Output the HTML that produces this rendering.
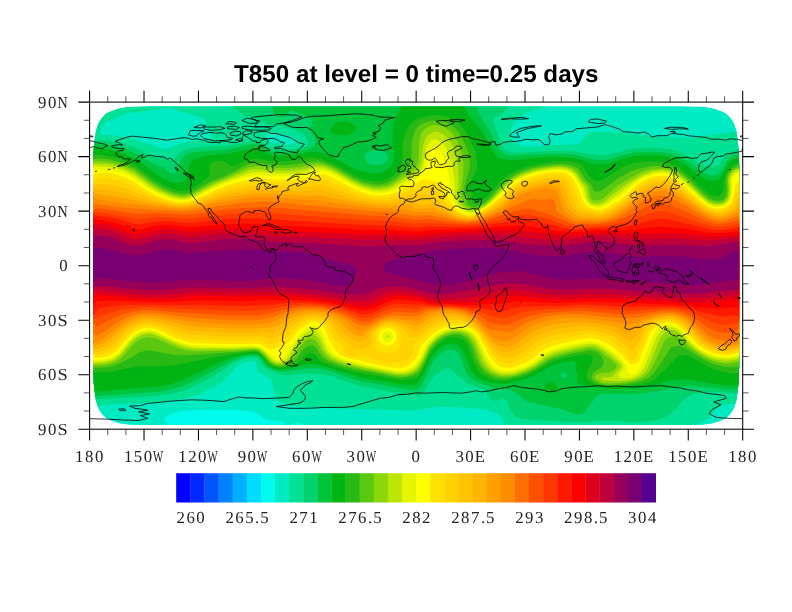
<!DOCTYPE html>
<html><head><meta charset="utf-8"><title>T850</title>
<style>
html,body{margin:0;padding:0;background:#fff;}
svg{display:block;}
text{text-rendering:geometricPrecision;}
.tl{font-family:"Liberation Serif",serif;font-size:16.8px;fill:#222;}
.tt{font-family:"Liberation Sans",sans-serif;font-weight:bold;font-size:24.2px;fill:#000;}
</style></head><body>
<svg width="792" height="612" viewBox="0 0 792 612">
<rect width="792" height="612" fill="#fff"/>
<g id="field">
<g clip-path="url(#dom)">
<rect x="89.8" y="102.2" width="652.2" height="326.8" fill="#00faeb"/>
<path fill="#00ebc3" fill-rule="evenodd" d="M87.8,100.2 745.8,100.2 745.8,432.2 408.9,432.2 407.8,429.6 405.8,428.1 397.8,427.5 393.8,428.2 392.0,430.2 391.1,432.2 358.9,432.2 357.8,429.6 355.8,428.3 351.8,427.9 343.8,428.7 341.8,430.0 340.6,432.2 311.2,432.2 309.6,430.2 303.8,426.2 301.8,423.9 299.8,423.2 295.8,423.0 293.8,423.2 290.9,424.2 291.2,426.2 290.7,428.2 288.2,432.3 282.3,432.2 280.8,428.2 281.2,426.2 281.8,425.5 284.4,424.2 285.4,422.2 277.8,420.7 267.8,419.8 263.9,418.2 255.8,412.5 251.8,411.4 235.8,409.9 215.8,409.5 185.8,410.6 175.8,412.2 169.6,414.2 165.9,416.2 164.2,418.2 164.2,420.2 168.6,424.2 168.8,426.2 167.4,430.2 167.5,432.2 87.8,432.2Z"/>
<path fill="#00e196" fill-rule="evenodd" d="M87.8,100.2 547.6,100.2 548.0,102.2 547.7,104.2 546.3,106.2 541.6,108.2 527.8,112.1 523.4,114.2 515.9,120.2 511.8,126.1 510.8,130.2 511.0,134.2 511.8,137.8 513.8,141.4 517.3,144.2 522.8,146.2 525.8,146.6 539.7,146.2 555.8,144.7 577.4,144.2 580.7,142.2 587.8,134.0 589.8,132.8 593.8,132.0 619.8,132.3 654.2,136.2 687.8,137.9 701.8,136.5 729.8,132.2 739.8,131.4 745.8,132.2 745.7,406.1 743.0,404.2 735.8,403.6 726.9,404.2 720.6,406.2 715.1,410.2 707.8,418.6 705.8,420.3 695.8,425.4 687.8,427.2 685.8,429.1 684.7,432.2 507.7,432.2 505.8,429.7 504.2,426.2 502.8,420.2 499.8,416.0 497.8,414.2 494.0,412.2 485.8,409.8 481.8,409.1 451.8,407.1 439.8,406.8 427.8,408.2 417.8,410.3 409.8,410.5 331.8,408.3 295.8,406.4 289.8,405.3 280.8,402.2 277.0,400.2 275.8,398.1 271.5,380.2 269.7,378.2 259.0,372.2 257.2,370.2 256.4,364.2 255.8,362.9 253.8,361.5 251.8,361.2 244.8,362.2 240.2,364.2 234.8,368.2 225.8,378.5 219.8,383.5 205.8,391.3 197.8,394.8 191.8,396.9 179.8,399.6 153.8,402.9 121.8,403.8 103.8,404.9 99.8,406.2 95.8,410.0 91.2,410.2 87.8,411.2ZM163.8,108.2 141.8,111.8 129.8,112.8 123.8,114.4 113.8,119.2 107.8,121.1 105.8,122.3 102.7,126.2 100.3,132.2 101.1,134.2 101.8,134.5 115.8,135.6 127.8,137.4 139.8,141.0 159.8,148.1 165.8,148.7 169.8,148.2 175.8,145.2 181.8,142.9 189.8,141.2 205.8,140.1 211.2,138.2 211.4,136.2 205.8,123.0 203.8,119.6 201.8,118.0 171.8,108.4 167.8,107.8ZM271.8,132.2 269.8,132.6 266.1,134.2 265.0,136.2 269.8,142.0 271.8,143.1 273.8,143.5 277.8,142.8 279.8,143.2 281.5,144.2 287.8,145.1 293.6,144.2 296.5,142.2 296.1,140.2 294.2,138.2 290.3,136.2 285.8,135.2 279.8,134.7 273.8,132.5Z"/>
<path fill="#00d26e" fill-rule="evenodd" d="M87.8,100.2 112.8,100.2 111.8,104.3 103.8,107.6 101.8,108.9 99.8,111.2 97.8,115.0 96.4,116.2 89.8,117.7 87.8,117.3ZM231.2,100.2 507.8,100.2 508.3,106.2 507.6,108.2 503.8,111.5 494.1,118.2 493.3,120.2 493.5,122.2 500.0,140.2 502.7,146.2 504.1,148.2 506.4,150.2 509.8,151.7 512.8,152.2 521.8,152.4 549.8,150.9 567.8,150.8 575.8,151.5 585.8,153.5 601.8,155.3 610.9,154.2 621.8,150.9 631.8,148.8 647.8,147.7 659.8,147.9 669.8,149.2 677.8,151.5 685.8,155.0 689.8,157.2 700.1,164.2 705.8,166.3 711.8,167.0 715.8,166.4 717.8,165.1 725.8,155.8 731.8,151.3 741.8,147.6 745.8,146.9 745.8,394.4 721.8,392.4 711.8,392.1 702.8,392.2 693.8,393.9 688.2,396.2 685.4,398.2 681.4,402.2 674.9,410.2 669.8,414.6 663.8,417.8 659.8,419.3 649.8,421.2 629.8,422.6 615.8,420.8 597.8,420.7 585.8,421.9 573.8,422.1 529.8,419.7 519.9,418.2 515.8,416.4 513.1,414.2 510.1,410.2 507.3,402.2 505.8,399.6 503.8,398.7 495.8,400.7 493.8,400.8 491.8,400.2 489.8,398.1 486.7,392.2 485.0,390.2 481.8,388.8 471.8,385.8 467.8,383.8 456.1,374.2 455.8,373.5 449.8,368.4 447.8,367.9 441.8,370.7 435.8,375.0 431.8,378.7 427.8,384.5 424.3,392.2 422.7,394.2 419.8,395.7 415.8,395.7 407.8,394.9 357.8,385.4 330.6,376.2 322.0,374.2 309.8,373.6 287.8,375.1 283.8,374.9 277.8,373.8 265.8,368.5 263.8,366.5 259.8,360.4 257.8,358.3 253.8,357.2 245.8,358.0 239.0,360.2 231.5,364.2 217.8,373.5 207.8,379.2 187.8,389.2 177.8,392.6 167.8,394.6 157.8,395.8 99.8,399.2 87.8,402.1 87.8,137.4 89.8,138.2 97.8,139.9 111.8,141.4 123.8,143.7 133.8,147.2 155.8,157.6 157.8,158.1 161.8,157.9 163.7,158.3 167.8,159.9 169.8,160.3 171.8,160.1 173.8,159.2 180.8,152.2 183.8,150.3 187.7,148.7 195.8,147.3 225.8,145.8 236.7,144.2 253.8,141.0 257.8,140.7 261.8,142.3 267.8,146.8 271.8,148.8 277.8,149.5 287.8,149.8 301.8,148.2 305.7,146.2 307.3,144.2 307.8,142.2 306.5,138.2 303.8,135.0 299.8,131.7 291.8,128.5 269.4,124.2 265.8,122.9 253.8,116.4 245.8,115.6 243.8,114.9 237.6,110.2 233.8,107.9 232.1,106.2 231.4,104.2Z"/>
<path fill="#00c33c" fill-rule="evenodd" d="M269.4,100.2 476.4,100.2 476.7,106.2 478.4,112.2 489.7,130.7 498.2,148.2 499.8,150.4 503.8,153.6 509.8,155.4 517.8,155.6 549.8,153.8 565.8,154.0 575.8,155.1 591.8,159.0 601.8,160.2 609.8,159.2 625.8,154.2 633.8,152.5 647.8,151.7 659.8,151.9 669.8,153.5 679.8,157.1 687.8,161.6 697.8,168.8 703.8,172.5 709.8,175.0 713.8,175.5 717.8,174.4 719.8,173.0 721.8,170.5 727.5,160.2 731.8,156.4 737.8,153.9 745.8,153.2 745.8,390.2 729.8,389.4 695.8,386.4 683.8,386.1 673.8,387.3 657.8,391.3 643.8,393.3 625.8,394.1 601.8,393.8 599.4,394.2 597.0,396.2 589.8,404.5 583.8,412.7 580.0,414.2 575.8,414.1 559.8,408.6 549.8,407.1 535.8,403.2 527.8,402.0 524.8,400.2 519.8,395.1 511.3,390.2 503.8,388.2 499.8,387.8 498.3,388.2 495.8,390.3 493.8,389.6 492.7,388.2 488.8,386.2 475.7,381.3 470.7,378.2 467.1,374.2 464.3,368.3 460.3,356.2 457.8,352.5 455.8,350.7 453.7,349.8 449.8,349.3 445.8,350.3 442.1,352.2 439.5,354.2 435.7,358.2 431.8,364.2 427.4,374.2 420.9,386.2 419.6,388.2 417.8,389.5 415.8,390.0 409.8,389.8 403.8,389.1 385.8,385.6 363.8,382.1 353.8,379.2 327.8,370.4 319.8,368.7 309.8,368.3 299.8,369.2 285.8,371.2 277.8,371.1 273.8,369.9 267.8,366.9 264.9,364.2 259.8,357.5 257.8,356.0 253.8,355.1 244.6,356.2 233.8,359.8 209.8,372.7 187.8,383.8 181.8,386.5 173.8,389.1 165.8,390.7 155.8,392.0 99.8,395.8 91.8,397.3 87.8,398.6 87.8,143.2 95.8,143.6 107.8,145.0 119.8,147.5 127.8,150.0 137.8,154.7 155.8,165.3 165.4,168.2 169.8,172.6 171.8,173.7 173.8,173.7 175.8,172.1 179.6,164.2 181.0,160.2 183.8,156.5 187.8,153.8 193.7,152.2 201.8,151.3 223.8,149.9 255.8,144.0 259.8,144.8 267.8,150.2 271.8,151.8 277.8,152.3 287.7,152.4 303.8,150.3 309.3,148.2 313.8,145.9 315.3,144.2 315.7,142.2 314.7,138.2 310.3,130.2 310.2,128.2 312.0,122.2 312.0,120.2 310.5,118.2 295.8,111.6 291.8,110.5 289.8,111.1 285.8,115.7 283.8,117.0 281.8,117.2 278.2,116.2 275.2,114.2 273.5,112.2 273.0,108.2 271.8,107.2 270.0,104.2ZM373.8,149.9 367.8,152.2 365.4,154.2 364.7,156.2 364.8,158.2 367.2,162.2 369.9,164.2 375.8,165.6 381.8,164.6 385.8,162.2 387.2,160.2 387.9,158.2 387.8,155.9 385.8,152.7 383.8,151.3 379.8,149.5 377.8,149.2ZM565.8,372.2 563.8,372.4 561.2,374.2 561.1,376.2 563.8,378.5 565.8,378.0 566.9,376.2 567.1,374.2Z"/>
<path fill="#00b414" fill-rule="evenodd" d="M400.8,100.2 460.5,100.2 461.8,101.4 464.9,108.2 470.9,118.2 479.7,128.2 483.8,134.6 489.5,144.2 493.0,152.2 494.5,154.2 497.8,157.0 503.8,159.5 513.8,159.9 537.8,157.7 551.8,157.1 563.8,157.2 575.8,158.5 583.1,160.2 591.8,163.5 599.7,164.5 609.8,163.4 624.1,158.2 631.8,156.2 645.8,155.4 659.8,155.6 667.8,156.9 677.4,160.2 684.6,164.2 699.8,175.3 703.8,177.8 707.8,179.7 711.8,180.7 713.8,180.8 717.8,179.5 721.8,176.0 727.8,165.0 731.8,160.5 737.8,157.7 745.8,156.8 745.8,384.3 739.8,385.7 733.8,385.8 716.3,384.2 687.8,379.6 679.8,379.3 669.8,380.4 651.8,385.5 637.8,387.6 615.8,389.1 605.8,388.8 597.8,387.8 580.1,384.2 577.0,382.2 576.9,380.2 577.6,376.2 575.7,368.2 576.1,362.2 573.8,361.0 564.6,362.2 553.8,365.2 547.8,368.0 535.8,375.0 529.8,377.5 517.8,381.4 505.8,383.9 493.8,383.2 488.8,382.2 483.4,380.2 479.2,378.2 473.6,374.2 471.8,372.1 469.8,368.7 464.8,354.2 461.8,348.7 457.8,345.0 453.8,343.6 451.8,343.4 447.8,344.0 443.8,345.5 439.8,347.9 435.8,351.3 431.8,356.4 424.5,372.2 421.8,377.2 417.8,382.8 415.8,384.3 413.8,384.9 407.8,385.1 401.8,384.6 383.8,381.4 363.8,378.6 325.8,366.8 313.7,364.1 309.8,364.1 305.8,364.7 285.8,369.0 277.8,369.3 273.8,368.1 267.8,364.8 259.8,355.5 257.8,354.1 253.8,353.4 241.8,355.0 227.8,358.9 217.8,363.2 182.3,380.2 171.1,384.2 159.8,386.4 103.8,390.9 93.8,392.1 87.8,390.7 87.8,147.7 99.8,148.4 109.8,150.1 118.0,152.2 129.4,156.2 139.8,161.8 153.8,172.3 163.7,178.6 169.8,181.4 175.8,182.8 179.8,182.8 181.8,182.3 184.9,180.2 187.2,176.2 189.8,164.0 190.8,162.2 196.8,158.2 205.8,155.9 231.8,153.1 255.8,148.0 257.8,148.2 259.8,149.2 267.8,154.2 269.8,154.9 273.8,155.5 289.8,155.3 303.8,153.3 309.8,152.0 317.8,151.9 325.8,154.3 331.8,154.9 335.2,158.2 338.7,160.2 345.8,163.6 353.7,168.2 359.0,170.2 369.8,173.1 373.8,173.5 377.8,173.2 383.8,171.4 387.8,169.1 391.8,165.1 394.0,160.2 394.3,154.2 392.4,144.2 392.2,140.2 393.5,122.2 394.8,118.2 396.9,114.2 401.9,106.2 401.8,101.7ZM337.1,122.2 341.8,121.2 348.7,122.2 352.7,124.2 353.8,125.6 355.0,126.2 356.2,128.2 355.4,130.2 353.3,132.2 349.6,134.2 345.8,135.0 341.8,135.2 335.8,135.0 333.8,134.5 330.3,130.2 330.4,128.2 331.8,127.4 332.1,126.2 334.1,124.2ZM548.2,382.2 549.8,381.6 551.8,381.7 553.8,383.0 556.7,386.2 557.1,388.2 556.3,390.2 553.8,392.5 551.8,392.9 549.8,392.6 544.8,390.2 544.1,388.2 544.6,386.2 545.8,384.2Z"/>
<path fill="#28b914" fill-rule="evenodd" d="M426.4,116.2 433.8,115.2 439.8,115.4 447.8,117.1 451.8,118.8 455.7,121.1 459.7,124.3 463.4,128.2 467.3,134.2 475.7,152.2 477.3,164.2 477.3,168.2 476.6,170.2 469.8,183.3 468.6,188.2 469.7,190.2 471.9,192.2 472.8,194.2 472.3,200.2 472.9,202.2 473.8,202.8 475.8,203.0 479.0,202.2 482.7,200.2 487.2,196.2 501.8,179.8 507.8,175.2 515.8,170.7 523.8,167.6 533.8,164.9 553.8,161.7 559.8,161.3 569.8,161.6 575.8,162.5 579.8,163.9 582.6,166.2 589.8,176.9 593.8,179.9 595.8,180.8 597.8,181.1 601.6,180.2 603.8,179.2 623.8,166.6 631.8,163.3 637.8,162.3 651.8,161.3 659.8,161.6 667.8,162.8 673.8,165.0 677.8,167.0 683.8,171.2 689.8,176.3 704.3,190.2 709.2,194.2 713.8,196.3 717.2,196.2 719.8,195.2 721.8,193.5 723.8,188.1 724.1,180.2 725.0,176.2 726.6,172.2 729.8,167.7 733.8,164.6 737.8,163.0 745.8,162.3 745.8,372.5 731.8,373.3 727.8,373.0 721.8,371.8 709.8,367.4 689.5,356.2 685.8,355.1 681.8,354.9 677.8,356.3 670.3,364.2 655.8,378.2 653.0,380.2 649.8,381.8 643.8,383.3 625.8,386.1 615.8,386.9 605.8,386.6 599.8,385.7 593.8,383.8 589.8,381.4 588.4,380.2 587.2,378.2 586.7,374.2 587.3,370.2 592.4,362.2 593.1,358.2 592.1,356.2 589.8,354.9 587.8,354.2 585.8,354.2 571.8,356.6 555.7,360.2 547.8,363.8 535.8,371.3 527.8,374.9 519.8,377.7 507.8,380.4 503.8,380.8 497.8,380.5 493.8,379.7 487.8,377.5 483.8,375.2 480.2,372.2 476.9,368.2 474.7,364.2 469.7,350.2 467.8,345.8 465.8,342.5 463.6,340.2 460.3,338.2 457.8,337.5 453.8,337.2 447.7,338.2 443.5,340.2 437.8,344.4 431.8,351.1 429.8,354.5 422.5,370.2 419.8,374.3 415.8,377.4 411.8,378.9 407.7,379.6 401.8,379.9 395.8,379.4 381.1,376.2 361.8,373.3 341.8,368.8 327.8,364.3 322.9,362.2 320.1,360.2 314.4,354.2 311.8,353.0 309.8,353.0 307.8,353.7 305.8,355.2 301.3,360.3 298.7,362.2 294.6,364.2 285.8,367.0 281.8,367.7 277.8,367.7 273.8,366.6 269.8,364.5 267.2,362.2 262.4,356.2 259.8,353.7 257.8,352.5 253.8,351.8 245.8,352.5 220.5,356.2 171.8,365.4 161.8,366.2 143.8,366.3 135.8,366.8 111.8,371.6 93.8,372.4 87.8,374.4 87.8,156.2 93.8,154.4 101.8,154.9 113.8,157.1 125.8,160.9 131.8,163.4 137.8,166.9 152.4,178.2 161.9,184.2 170.6,188.2 177.0,190.2 181.8,190.9 187.8,190.4 192.8,188.2 201.9,182.2 209.0,176.2 209.7,174.2 209.0,168.2 209.5,166.2 210.4,164.2 212.3,162.2 213.8,161.5 217.8,160.4 221.8,160.8 225.6,162.2 229.8,165.3 231.8,166.1 237.8,164.5 243.8,161.5 247.8,160.0 255.8,158.4 259.8,158.7 269.8,161.0 279.8,161.4 293.8,160.6 309.8,157.7 315.8,157.7 321.8,159.1 331.8,163.0 339.8,166.9 352.4,174.2 360.9,178.2 369.8,180.7 375.8,181.3 379.8,181.2 384.5,180.2 389.8,177.9 394.5,174.2 399.8,168.5 401.7,164.2 402.7,160.2 402.5,146.2 403.2,140.2 405.0,134.2 406.8,130.2 410.3,124.2 413.8,120.9 419.8,117.8Z"/>
<path fill="#5ac80f" fill-rule="evenodd" d="M425.0,122.2 429.8,121.0 435.8,120.6 441.8,121.2 445.8,122.4 449.8,124.3 455.1,128.2 458.6,132.2 461.1,136.2 465.0,144.2 468.0,152.2 469.1,156.2 469.9,162.2 469.2,170.2 465.8,181.4 464.0,190.2 464.5,192.2 467.5,196.2 466.9,202.2 468.2,204.2 469.8,205.5 471.8,206.6 473.8,207.0 478.0,206.2 485.2,202.2 489.6,198.2 498.4,188.2 505.8,180.9 511.7,176.4 517.8,173.0 527.8,169.2 535.8,167.1 551.8,164.6 559.8,164.0 569.8,164.9 575.8,167.0 577.6,168.2 579.8,170.8 585.8,179.9 590.9,184.2 593.8,190.7 595.8,191.8 599.8,191.3 601.8,190.3 619.8,177.6 629.8,171.9 635.8,169.4 645.8,166.9 653.8,165.7 661.8,165.7 667.8,166.5 675.8,169.3 681.8,173.1 689.8,180.1 704.2,194.2 709.3,198.2 713.8,200.4 719.8,200.8 721.8,200.3 723.8,198.9 725.8,196.2 726.8,190.2 726.3,182.2 726.5,178.2 726.9,176.2 728.8,172.2 731.8,168.9 735.8,166.5 739.8,165.3 745.8,164.9 745.8,365.3 729.8,367.1 723.8,366.6 717.8,365.3 711.8,363.3 703.8,359.6 683.8,347.4 679.8,346.0 675.8,345.9 671.8,347.2 669.8,349.1 661.4,362.2 654.4,372.2 650.8,376.2 648.1,378.2 639.8,381.4 629.8,383.6 615.8,385.2 605.8,385.0 601.8,384.2 596.0,382.2 593.0,380.2 591.7,378.2 591.8,375.7 593.8,372.3 595.8,370.7 600.8,368.2 602.6,366.2 603.3,364.2 603.5,360.2 602.8,358.2 601.4,356.2 597.8,352.8 593.8,350.9 589.8,350.2 567.8,354.6 553.8,358.2 547.8,361.0 533.8,370.0 519.8,375.6 509.8,378.1 503.8,378.5 499.8,378.3 495.8,377.5 489.8,375.1 485.8,372.6 483.1,370.2 478.8,364.2 476.1,358.2 471.8,346.2 468.3,340.2 466.4,338.2 463.5,336.2 459.8,334.8 455.8,334.2 451.8,334.6 446.0,336.2 442.2,338.2 437.8,341.5 433.8,345.3 429.8,350.7 424.6,362.2 419.8,370.8 417.8,372.8 413.8,375.1 405.8,377.2 401.8,377.4 395.8,377.0 372.7,372.2 353.8,369.0 337.8,365.0 327.8,361.1 323.8,358.5 321.6,356.2 315.8,348.1 313.8,346.1 311.8,345.3 309.8,345.4 307.8,346.2 303.8,348.8 301.8,350.9 296.9,358.2 292.2,362.2 287.8,364.5 281.8,366.2 275.8,365.9 271.8,364.2 269.1,362.2 263.8,355.9 259.9,352.3 255.8,350.5 251.8,350.5 235.8,352.1 189.8,355.1 173.8,354.7 165.8,353.5 151.8,350.6 147.8,350.3 143.8,351.1 139.8,352.4 122.2,362.2 113.8,365.7 103.8,367.5 87.8,367.7 87.8,160.8 91.6,160.2 93.8,159.0 97.8,158.2 109.8,159.6 123.8,163.5 129.8,165.9 135.8,169.1 153.2,182.3 163.4,188.2 173.3,192.2 181.8,194.1 185.8,193.8 191.6,192.2 211.8,181.0 224.6,176.2 233.1,172.2 245.8,165.3 249.8,163.9 255.8,162.8 259.8,162.9 271.8,165.1 283.8,165.2 297.7,164.2 311.8,161.4 315.8,161.2 319.8,161.6 325.8,163.2 331.8,165.7 339.8,169.7 354.3,178.2 363.4,182.2 371.8,184.3 377.8,184.7 381.8,184.5 387.8,182.8 393.8,179.6 405.1,170.2 410.0,164.2 411.3,160.2 411.7,142.2 413.6,134.2 415.8,129.5 418.1,126.2 420.6,124.2Z"/>
<path fill="#8cd70a" fill-rule="evenodd" d="M429.1,126.2 431.8,125.3 435.8,124.9 441.8,126.0 445.8,127.7 449.4,130.2 451.8,132.6 454.5,136.2 457.8,142.0 461.6,152.2 463.3,162.2 463.3,174.2 460.9,192.2 461.8,198.2 463.0,202.2 464.3,204.2 467.8,206.9 471.8,208.8 473.8,208.9 477.3,208.2 484.9,204.2 491.6,198.2 505.8,183.2 511.8,178.5 517.8,175.0 525.8,171.7 535.8,168.8 541.8,167.6 557.8,165.7 563.8,165.9 567.8,166.7 572.0,168.2 575.8,170.7 578.8,174.2 583.8,181.8 587.0,184.2 588.6,186.2 590.2,196.2 591.8,199.1 593.8,200.4 597.8,200.5 601.8,199.0 605.6,196.2 617.8,185.8 631.8,177.3 639.8,173.1 645.8,170.7 651.8,169.1 661.8,168.2 669.8,169.2 677.8,172.5 685.8,178.7 701.6,194.2 706.2,198.2 709.8,200.6 713.8,202.3 719.8,202.7 721.8,202.2 724.9,200.2 727.6,196.2 728.4,190.2 727.8,180.2 728.4,176.2 729.8,173.5 731.8,171.0 735.8,168.4 739.8,167.0 745.8,166.4 745.8,361.6 739.8,361.6 731.8,363.0 725.8,363.4 719.8,362.7 711.8,360.5 703.8,357.0 697.8,353.3 688.5,346.2 679.8,338.3 675.8,336.5 671.8,336.3 667.8,337.8 665.8,339.5 663.8,342.3 654.9,362.2 649.0,372.2 645.8,375.4 641.8,378.0 633.8,381.0 623.8,382.8 611.8,383.6 603.8,382.9 601.2,382.2 597.0,380.2 595.2,378.2 595.2,376.2 597.3,374.2 601.8,373.1 609.8,372.5 611.8,371.6 615.8,368.5 616.9,366.2 616.2,364.2 614.2,362.2 599.8,351.0 595.8,348.9 589.8,347.8 567.8,352.3 553.8,355.9 547.8,358.7 533.8,368.0 525.8,371.7 517.8,374.5 511.7,376.0 507.8,376.5 501.8,376.5 497.8,375.8 493.5,374.2 489.7,372.2 485.8,369.2 483.2,366.2 480.8,362.2 473.7,344.2 469.9,338.2 467.8,336.2 463.7,334.0 459.8,332.8 455.8,332.4 451.8,332.8 446.4,334.2 442.2,336.2 437.8,339.3 433.8,343.0 429.5,348.2 423.8,360.7 419.7,367.7 417.8,370.2 415.8,371.7 411.8,373.7 407.8,375.0 403.8,375.6 395.8,375.3 361.8,368.8 345.8,365.2 335.8,362.0 329.8,359.2 325.7,356.2 322.4,352.2 317.1,342.2 315.1,340.2 311.8,338.8 307.8,339.6 303.8,342.4 299.8,346.7 294.0,356.2 290.7,360.2 285.8,363.5 281.8,364.8 277.8,364.9 275.8,364.5 271.8,362.6 269.1,360.2 261.8,352.2 257.8,349.8 253.8,349.3 229.8,350.8 199.8,351.3 191.8,351.1 183.8,349.7 175.8,347.3 155.4,338.2 147.8,337.0 141.8,338.2 137.8,340.4 133.8,343.8 123.2,356.2 119.8,359.1 115.8,361.6 111.8,363.3 105.8,364.7 99.8,365.4 87.8,365.8 87.8,162.4 91.8,162.1 95.8,161.1 103.8,161.4 113.8,163.0 123.8,166.0 129.8,168.5 135.8,171.8 151.8,183.8 161.8,189.7 173.0,194.2 181.8,196.0 185.8,195.8 191.8,194.2 213.8,182.4 225.2,178.2 247.8,167.7 255.8,166.0 259.8,166.0 271.8,168.0 287.8,168.2 299.8,167.1 313.8,164.1 317.8,163.8 321.8,164.2 327.8,166.0 333.8,168.7 354.1,180.2 363.1,184.2 371.8,186.5 377.8,187.0 381.8,186.8 387.8,185.4 393.8,182.5 401.8,176.6 412.1,170.2 415.8,166.9 417.4,164.2 418.4,160.2 419.0,144.2 420.9,134.2 423.8,129.8Z"/>
<path fill="#bee605" fill-rule="evenodd" d="M432.8,132.2 435.8,131.7 437.8,131.9 441.8,133.3 443.8,134.5 449.2,140.2 452.7,146.2 455.8,154.2 457.6,164.2 458.4,172.2 458.7,182.2 458.7,186.2 457.8,192.2 458.2,198.2 461.8,205.3 467.8,209.4 471.8,210.5 475.1,210.2 477.8,209.4 483.8,206.3 486.8,204.2 493.3,198.2 506.7,184.2 511.8,180.2 517.8,176.6 525.8,173.2 537.8,169.7 551.8,167.6 557.8,167.1 563.8,167.4 567.8,168.4 571.8,170.1 575.8,173.3 581.7,182.5 585.8,186.7 586.4,188.2 587.5,196.2 589.1,200.2 591.0,202.2 593.8,203.6 597.8,204.0 603.2,202.2 623.6,186.2 633.8,179.5 641.8,174.9 651.8,171.2 657.8,170.2 661.8,170.0 669.8,171.0 673.8,172.3 677.6,174.2 685.3,180.2 699.8,194.5 706.5,200.2 709.8,202.3 713.8,203.9 719.8,204.3 723.8,202.9 725.8,201.5 727.8,199.0 728.9,196.2 729.7,190.2 729.1,180.2 729.8,176.6 730.9,174.2 732.6,172.2 735.8,170.1 741.8,167.9 745.8,167.5 745.8,358.7 739.8,358.8 731.8,360.5 725.8,361.0 717.8,360.0 709.8,357.7 701.8,353.8 693.9,348.2 689.5,344.2 681.8,335.6 677.8,332.0 673.8,330.3 669.8,330.1 664.9,332.2 661.3,336.2 657.8,344.0 650.4,362.2 646.3,370.2 643.8,373.2 640.1,376.2 636.4,378.2 631.8,379.8 621.8,381.1 609.8,381.1 603.5,380.2 600.8,378.2 601.8,377.7 603.8,377.4 609.8,377.3 611.8,376.8 613.8,375.3 615.8,372.2 619.8,368.6 620.4,366.2 619.8,364.2 618.2,362.2 608.4,354.2 599.8,348.2 595.8,346.6 591.8,345.7 587.8,345.9 569.8,349.6 553.8,353.8 545.8,357.6 533.6,366.2 525.1,370.2 517.8,372.9 511.8,374.4 505.8,374.9 501.8,374.7 497.8,373.7 493.7,371.9 489.8,369.4 486.5,366.2 483.8,362.3 481.7,358.2 475.3,342.2 471.2,336.2 467.8,333.6 463.8,331.9 459.8,330.9 455.8,330.7 449.8,331.6 445.8,332.9 441.8,334.8 436.7,338.2 432.5,342.2 429.1,346.2 426.8,350.2 423.5,358.2 417.8,367.5 415.8,369.4 411.8,371.8 407.8,373.3 403.8,374.1 399.8,374.2 393.8,373.5 363.8,367.6 345.8,363.4 336.6,360.2 331.8,357.8 327.3,354.2 324.3,350.2 320.8,342.2 318.4,338.2 315.8,335.7 313.8,334.6 311.8,334.1 309.8,334.5 305.8,336.4 299.8,342.0 295.8,347.7 290.9,356.2 287.6,360.2 283.8,362.7 279.8,363.6 277.8,363.5 273.8,362.2 271.1,360.2 263.6,352.2 259.8,349.4 257.8,348.6 251.8,348.2 229.8,349.3 199.8,349.2 191.8,348.8 183.8,347.2 177.8,345.3 167.8,341.0 157.8,335.9 152.8,334.2 147.8,333.7 141.8,334.9 135.8,338.2 131.4,342.2 121.8,354.3 117.8,357.8 113.7,360.2 109.8,361.8 103.8,363.0 87.8,364.2 87.8,163.5 107.8,164.3 115.8,165.8 123.8,168.2 133.8,173.0 149.8,184.7 159.8,190.8 169.8,195.0 179.8,197.6 185.8,197.4 191.8,195.8 195.8,194.1 215.8,183.5 223.8,180.6 247.8,170.7 251.8,169.6 257.8,168.9 271.8,170.8 291.8,170.8 301.8,169.7 311.8,167.0 317.8,166.1 323.8,166.7 329.8,168.8 337.8,172.7 353.8,182.0 363.8,186.4 373.8,188.8 381.8,189.0 387.8,187.7 393.8,185.1 403.8,178.5 413.8,173.2 417.8,169.9 420.2,166.2 421.4,162.2 423.1,146.2 425.4,138.2 427.8,135.2Z"/>
<path fill="#e6f500" fill-rule="evenodd" d="M431.7,140.2 433.8,139.4 435.8,139.2 439.8,140.7 443.8,144.6 447.4,150.2 449.3,154.2 451.2,160.2 453.6,174.2 454.6,184.2 454.7,192.2 455.3,198.2 459.8,206.6 464.8,210.2 469.8,212.0 473.8,211.8 477.8,210.6 485.8,206.2 494.9,198.2 507.8,185.2 511.8,181.9 517.8,178.1 526.9,174.2 537.8,171.2 549.8,169.2 557.8,168.5 563.8,168.9 567.8,169.9 571.8,171.9 574.5,174.2 583.9,188.2 585.6,196.2 587.8,201.4 589.8,203.5 593.8,205.4 599.8,205.8 604.3,204.2 618.4,194.2 633.4,182.2 643.2,176.2 653.8,172.6 661.8,171.6 669.8,172.7 675.8,175.0 683.8,180.8 699.5,196.2 705.8,201.4 709.8,203.9 713.8,205.4 719.8,205.8 723.8,204.6 725.8,203.3 727.8,201.3 729.6,198.2 730.9,192.2 730.5,180.2 731.8,175.7 733.8,173.3 735.8,172.0 741.8,169.4 745.8,168.9 745.8,356.8 739.8,356.7 731.8,358.5 725.8,359.0 717.8,358.1 709.8,355.8 702.3,352.2 695.8,347.6 689.9,342.2 681.8,332.9 677.8,329.6 673.8,327.8 669.8,327.1 667.8,327.3 664.4,328.2 661.8,329.8 659.8,331.6 657.9,334.2 655.1,340.2 645.7,364.2 642.6,370.2 637.8,375.0 635.7,376.2 631.8,377.8 627.8,378.4 621.8,378.3 619.8,377.8 618.2,376.2 618.3,374.2 621.9,370.2 623.0,368.2 623.2,366.2 622.7,364.2 621.3,362.2 613.8,355.3 603.8,348.0 597.8,344.9 591.8,343.5 587.8,343.7 569.8,347.3 553.8,351.5 545.8,355.3 533.6,364.2 525.7,368.3 513.8,372.3 507.8,373.0 503.8,373.0 499.7,372.2 495.2,370.2 491.8,367.9 488.2,364.2 483.8,356.6 476.9,340.2 474.3,336.2 472.4,334.2 469.6,332.2 464.8,330.2 459.8,329.2 455.8,329.1 449.8,330.0 443.8,332.0 437.8,335.5 433.8,338.8 427.3,346.2 421.8,358.4 417.8,364.5 414.1,368.2 410.8,370.2 405.7,372.1 401.8,372.6 397.8,372.5 364.9,366.2 345.8,361.5 336.9,358.2 331.8,355.1 327.8,351.0 325.8,347.6 321.8,338.2 317.8,332.3 315.2,330.2 313.8,329.6 311.8,329.6 309.8,330.3 305.8,332.7 301.8,336.1 295.0,344.2 286.8,358.2 283.8,360.8 279.8,362.1 277.8,362.0 273.8,360.4 263.2,350.2 259.8,348.0 257.8,347.3 251.8,347.0 229.8,347.9 199.8,347.4 191.8,346.9 183.8,345.3 177.8,343.3 155.8,333.2 151.8,332.1 147.8,331.7 141.8,332.8 135.3,336.2 129.8,341.5 119.8,353.9 113.8,358.2 109.8,359.9 105.8,360.9 87.8,362.7 87.8,164.8 97.8,166.4 109.8,167.0 116.2,168.2 123.8,170.6 133.8,175.5 149.8,187.0 158.7,192.2 169.8,196.8 179.8,199.2 185.8,199.0 191.8,197.4 197.8,194.8 209.8,188.2 217.8,184.5 231.8,179.2 251.8,172.6 257.8,171.9 273.8,173.6 293.8,173.5 301.8,172.4 313.8,169.0 317.8,168.4 323.8,168.8 329.8,170.7 336.9,174.2 353.8,183.9 363.8,188.3 373.7,190.8 381.8,191.1 387.8,190.0 393.8,187.6 403.8,181.5 413.8,176.6 419.4,172.2 421.0,170.2 422.9,166.2 423.9,162.2 425.2,152.2 426.2,148.2 429.6,142.2ZM385.8,335.7 385.8,337.2 387.8,338.5 389.6,336.2 387.8,334.5Z"/>
<path fill="#ffff00" fill-rule="evenodd" d="M431.9,148.3 433.8,147.4 435.8,147.5 437.8,148.7 441.8,153.7 444.1,158.2 445.8,163.5 449.8,181.4 451.8,196.2 453.0,200.2 456.6,206.2 459.8,209.5 464.2,212.2 469.8,213.5 473.8,213.0 477.8,211.7 487.5,206.2 496.7,198.2 509.8,185.4 513.9,182.2 519.8,178.9 525.8,176.2 539.4,172.2 555.8,170.1 561.8,170.2 565.8,171.0 569.8,172.6 573.8,175.8 575.8,178.4 581.2,188.3 584.3,198.2 586.3,202.2 589.8,205.4 593.8,207.1 599.8,207.7 605.8,205.8 620.7,196.2 631.7,186.2 639.8,180.2 645.8,177.1 651.8,174.9 655.8,173.9 661.8,173.4 669.3,174.2 675.8,176.9 683.0,182.2 699.6,198.2 705.8,203.1 709.8,205.4 713.8,206.9 719.8,207.3 723.8,206.2 725.8,205.1 727.8,203.5 730.1,200.2 731.5,196.2 732.3,192.2 732.6,180.2 733.8,176.5 736.3,174.2 741.8,171.7 745.8,170.7 745.8,354.6 739.8,354.7 731.8,356.6 725.8,357.2 717.8,356.3 709.8,353.9 702.2,350.2 696.6,346.2 691.8,341.8 681.8,330.7 677.8,327.5 673.8,325.5 667.8,324.4 663.8,325.2 660.9,326.2 658.0,328.2 655.8,330.6 651.8,338.2 641.8,364.6 638.3,370.2 636.4,372.2 633.7,373.9 631.1,374.2 627.8,372.0 626.6,370.2 626.4,366.2 624.3,362.2 619.8,357.3 611.8,350.4 601.8,343.9 595.8,341.9 591.8,341.2 587.8,341.3 567.8,345.2 553.8,349.0 545.8,352.6 532.9,362.2 525.4,366.2 513.7,370.2 507.8,370.9 503.8,370.8 499.8,369.8 496.6,368.2 493.7,366.2 490.1,362.2 485.8,354.9 479.3,340.2 476.9,336.2 473.8,332.8 469.8,330.0 465.8,328.5 459.8,327.3 455.8,327.3 451.8,327.8 445.8,329.3 441.8,331.0 435.8,334.8 429.9,340.2 426.4,344.2 424.2,348.2 419.8,358.2 413.8,365.6 410.1,368.2 405.8,370.1 401.8,370.7 397.8,370.7 382.9,368.2 364.1,364.2 347.7,360.2 341.8,358.3 337.4,356.2 332.2,352.2 329.8,349.1 327.8,345.5 322.2,332.2 319.8,328.4 317.3,326.2 313.8,325.2 309.7,326.2 305.8,328.8 301.6,332.2 294.7,340.2 283.8,357.6 281.8,359.1 279.8,359.7 277.8,359.5 274.9,358.2 263.8,348.8 261.8,347.5 257.8,346.0 251.8,345.6 227.8,346.3 197.8,345.5 189.8,344.7 181.8,342.8 174.7,340.2 155.8,331.3 151.8,330.3 147.8,329.9 143.8,330.4 139.8,331.6 133.8,335.3 128.7,340.2 119.8,351.3 113.6,356.2 108.9,358.2 103.8,359.4 87.8,360.5 87.8,166.7 95.8,169.3 109.8,169.7 121.8,172.5 126.4,174.2 133.8,178.2 148.0,188.2 157.8,193.9 168.7,198.2 175.8,200.1 179.8,200.7 185.8,200.4 193.8,198.3 218.4,186.2 231.8,181.3 249.8,176.2 257.8,174.9 275.8,176.5 295.8,176.2 301.8,175.3 313.8,171.7 319.8,170.9 325.8,171.6 329.8,173.0 351.8,185.0 361.8,189.6 371.8,192.5 377.8,193.3 381.8,193.2 389.8,191.7 395.8,189.3 405.8,183.6 415.8,178.9 419.8,176.1 423.4,172.2 424.6,170.2 426.5,164.2 428.1,154.2 429.7,150.2ZM385.8,331.3 383.8,332.4 382.4,334.2 381.9,336.2 382.2,338.2 383.8,340.7 385.8,341.9 387.8,342.1 389.8,341.7 391.7,340.2 392.8,338.2 393.1,336.2 392.6,334.2 391.8,333.0 389.8,331.4 387.8,331.0Z"/>
<path fill="#ffe100" fill-rule="evenodd" d="M550.5,172.2 562.0,172.2 567.8,174.0 571.1,176.2 573.8,179.3 575.8,182.8 582.6,200.2 585.2,204.2 589.8,207.4 593.8,208.9 597.8,209.5 601.8,209.3 605.8,208.0 619.4,200.2 624.7,196.2 635.0,186.2 643.8,180.3 648.2,178.2 653.8,176.4 661.8,175.4 669.8,176.5 673.8,178.1 677.3,180.2 683.8,185.5 699.6,200.2 707.8,206.0 711.8,207.9 715.8,208.9 721.7,208.6 727.0,206.2 730.8,202.2 732.5,198.2 735.8,184.9 737.8,181.5 739.8,180.9 741.8,184.5 743.4,194.2 743.8,195.1 745.8,196.0 745.8,350.8 733.8,354.3 727.8,355.3 719.8,354.8 711.8,352.8 703.8,349.2 697.8,345.0 692.7,340.2 683.6,330.2 677.8,325.3 671.8,322.8 665.8,322.3 659.3,324.2 655.8,326.4 652.1,330.2 649.8,334.4 643.0,350.2 639.6,360.2 637.8,362.6 635.8,363.6 631.8,364.1 629.8,363.6 625.9,360.2 621.8,354.9 617.8,351.0 611.8,346.2 605.8,342.4 597.8,339.3 589.8,338.2 585.8,338.5 563.8,342.7 549.8,346.8 541.8,351.1 533.0,358.2 526.5,362.2 515.8,366.5 509.8,367.8 505.8,367.9 499.6,366.2 496.4,364.2 493.8,361.8 488.5,354.2 479.8,337.3 477.6,334.2 473.8,330.4 469.8,327.9 465.8,326.4 459.8,325.3 455.8,325.2 449.8,326.0 443.8,327.7 437.8,330.6 432.7,334.2 422.3,344.2 420.3,348.2 417.5,356.2 413.8,361.1 409.8,364.5 405.8,366.7 401.8,367.8 393.8,367.7 385.8,366.7 373.5,364.2 359.8,360.3 349.8,358.8 342.5,356.2 339.1,354.2 335.6,350.2 329.8,341.1 325.2,330.2 322.6,326.2 320.6,324.2 317.8,322.6 313.8,321.9 311.3,322.2 307.8,323.7 301.3,328.2 297.2,332.2 289.8,341.2 287.8,343.0 277.8,347.5 271.8,349.6 269.8,349.5 267.8,348.7 261.8,345.1 255.8,343.8 229.8,344.2 197.8,343.0 189.6,342.2 181.3,340.2 175.6,338.2 161.8,331.6 155.8,329.3 147.8,328.0 143.8,328.3 139.8,329.5 133.8,332.9 127.9,338.2 117.8,350.3 111.8,354.6 105.8,356.7 97.8,357.7 93.8,357.3 89.8,355.3 87.8,354.9 87.8,183.5 90.3,182.2 92.5,176.2 93.8,174.6 95.8,173.6 101.8,173.0 107.8,173.2 114.6,174.2 122.0,176.2 131.8,180.6 146.6,190.2 157.8,196.0 169.9,200.2 175.8,201.6 181.8,202.1 187.8,201.4 195.8,199.1 215.8,189.7 229.8,184.3 245.8,180.3 255.8,178.4 259.8,178.3 275.8,179.6 295.8,179.5 303.8,178.3 317.8,174.5 323.8,174.5 329.8,176.3 351.8,187.7 359.8,191.2 369.8,194.4 379.8,195.6 387.8,194.8 393.8,193.1 399.8,190.7 408.2,186.2 417.8,182.6 421.8,180.3 423.8,179.6 425.8,179.4 437.8,182.4 442.3,184.2 443.8,185.7 445.0,188.2 448.1,198.2 449.2,200.2 455.4,208.2 457.8,210.4 461.8,212.9 465.8,214.4 469.8,214.8 473.8,214.2 477.8,212.7 487.8,207.3 498.8,198.2 511.4,186.2 517.8,182.0 525.8,178.3 531.7,176.2 539.8,174.1ZM387.8,328.1 383.8,329.0 381.8,330.3 380.0,332.2 378.7,336.2 379.4,340.2 381.8,343.5 383.8,344.8 387.8,345.7 391.8,344.6 393.8,343.1 395.7,340.2 396.5,336.2 395.2,332.2 393.8,330.5 391.8,329.1Z"/>
<path fill="#ffd200" fill-rule="evenodd" d="M541.5,176.2 549.8,174.9 553.8,174.8 561.8,175.4 565.8,176.8 569.8,180.0 571.8,183.0 578.6,200.2 580.8,204.2 583.8,206.9 587.8,209.1 593.8,210.8 597.8,211.5 603.8,210.8 611.8,207.3 623.8,199.9 635.8,188.7 641.8,184.3 649.8,180.4 657.8,178.3 665.8,178.3 669.8,179.3 673.8,181.1 679.8,185.0 702.3,204.2 709.8,208.7 715.8,210.5 719.8,210.7 723.8,209.9 727.4,208.2 729.8,206.5 732.9,202.2 735.8,193.6 737.8,190.3 739.8,191.5 741.1,196.2 741.8,197.2 743.8,198.3 745.8,198.0 745.8,349.1 741.8,349.6 733.8,352.5 727.8,353.5 719.8,352.9 711.8,350.8 705.8,348.2 699.8,344.2 695.4,340.2 684.2,328.2 679.4,324.2 675.8,322.2 671.8,320.9 665.8,320.6 661.8,321.3 657.8,322.8 653.8,325.0 650.1,328.2 647.6,332.2 642.0,344.2 638.5,350.2 636.2,358.2 633.8,360.2 631.8,360.4 629.8,359.6 628.3,358.2 625.8,352.6 623.8,350.2 611.8,340.8 606.6,338.2 601.8,336.5 593.8,334.8 587.8,334.3 565.8,337.6 549.8,341.5 543.8,344.0 539.9,346.2 529.6,354.3 523.0,358.2 513.8,361.9 509.8,362.9 505.8,363.1 501.8,362.3 499.8,361.4 495.8,358.3 489.8,350.7 479.6,334.2 473.8,328.3 469.8,325.7 465.8,324.1 459.8,322.8 453.8,322.7 445.8,323.8 437.8,326.7 433.8,329.0 425.8,335.6 415.8,342.2 414.2,344.2 413.5,346.2 412.3,354.2 411.1,356.2 407.8,358.9 403.8,360.8 399.8,361.9 387.8,362.9 375.8,360.2 367.8,357.5 359.8,355.4 357.8,355.4 353.8,356.5 351.8,356.7 349.2,356.2 345.1,354.2 343.4,352.2 343.4,348.2 342.7,346.2 335.8,340.4 333.9,338.2 327.0,326.2 323.8,323.0 319.8,320.5 317.8,319.8 313.8,319.3 307.8,320.7 299.8,325.2 295.9,328.2 287.8,336.5 285.5,338.2 273.8,343.4 269.7,344.2 267.8,343.8 261.8,341.0 259.8,340.7 231.8,340.8 191.8,338.8 185.8,337.7 177.8,335.6 161.8,328.8 155.8,326.8 149.8,325.7 143.8,326.0 137.8,327.8 130.6,332.2 126.2,336.2 115.8,347.8 109.8,352.0 103.8,354.1 97.8,354.8 87.8,353.1 87.8,185.4 89.8,185.2 92.2,184.2 95.8,179.2 97.8,178.4 103.8,178.2 109.8,178.8 121.8,181.5 129.8,184.5 143.9,192.2 155.8,197.3 169.8,201.8 179.8,203.4 187.8,202.8 195.8,200.7 215.8,192.3 229.8,187.3 243.2,184.2 257.8,182.0 275.8,183.0 297.8,183.3 303.8,182.6 317.8,179.5 323.8,179.7 327.8,180.8 351.8,191.3 361.8,194.7 371.8,197.2 379.8,198.0 387.8,197.5 393.7,196.3 400.7,194.2 411.8,189.4 419.8,188.3 423.8,187.0 425.8,186.8 433.8,188.9 437.8,191.6 440.2,194.2 443.5,200.2 457.1,212.2 460.9,214.2 463.8,215.2 469.8,215.9 473.8,215.3 477.8,213.8 483.8,211.0 489.8,207.4 499.1,200.2 511.8,188.7 517.8,184.5 527.3,180.2ZM385.7,325.9 383.8,326.4 380.5,328.2 378.3,330.2 375.8,334.2 375.4,338.2 376.7,350.2 377.8,351.5 379.8,352.2 393.8,353.0 395.8,352.2 397.8,349.8 400.8,344.2 401.7,340.2 400.9,334.2 398.3,330.2 393.8,326.9 389.8,325.8Z"/>
<path fill="#ffc300" fill-rule="evenodd" d="M547.4,178.2 551.8,178.0 557.8,178.6 561.8,179.5 563.8,180.4 565.9,182.2 568.6,186.2 573.8,200.2 577.1,206.2 579.8,208.6 583.8,210.8 595.8,213.4 599.8,213.5 603.8,212.9 610.7,210.2 623.8,202.4 635.8,191.8 643.8,186.2 651.8,182.8 659.8,181.2 663.8,181.2 667.8,181.9 673.8,184.3 681.8,189.8 702.4,206.2 709.8,210.5 715.8,212.3 719.8,212.6 723.8,212.0 729.8,209.2 733.8,205.2 735.8,200.7 737.8,197.6 741.8,199.6 745.8,199.2 745.8,347.8 741.7,348.1 733.8,350.6 727.8,351.6 719.8,351.0 711.8,348.8 705.8,345.9 700.5,342.2 684.8,326.2 679.8,322.2 673.8,319.7 667.8,318.9 663.8,319.2 659.5,320.2 651.8,323.6 648.2,326.2 646.6,328.2 637.8,343.6 633.8,348.8 631.8,349.9 629.8,348.8 615.8,337.7 611.8,335.6 605.8,333.4 597.8,331.6 587.8,330.2 583.8,330.2 559.8,333.6 547.8,336.7 541.8,339.0 537.8,341.2 525.7,350.2 517.8,354.7 509.8,357.4 503.8,357.7 499.8,356.1 493.8,350.6 487.8,343.3 479.8,332.1 475.8,327.9 471.8,324.6 467.8,322.5 461.8,320.6 453.8,319.7 445.8,320.3 437.8,322.5 431.8,325.7 421.8,333.2 415.8,336.5 411.8,337.5 409.8,336.3 406.8,332.2 404.4,330.2 395.8,325.1 393.4,324.2 389.8,323.7 383.8,324.6 379.8,326.6 373.7,332.2 372.4,334.2 371.5,342.2 369.8,344.9 367.8,346.6 363.8,348.5 355.8,349.0 353.8,348.4 350.3,344.2 339.8,336.8 332.0,326.2 327.7,322.2 324.9,320.2 319.8,317.9 313.8,317.1 307.7,318.0 298.0,322.2 292.1,326.2 282.2,334.2 273.8,337.9 269.8,338.7 263.8,336.6 261.8,336.4 231.8,336.8 193.8,334.8 185.8,333.5 177.8,331.6 163.6,326.2 157.8,324.5 149.8,323.2 143.8,323.4 139.8,324.3 135.8,325.8 128.6,330.2 123.9,334.2 113.8,344.8 107.8,349.0 103.8,350.5 97.8,351.7 87.8,351.8 87.8,186.7 92.4,186.2 97.8,183.7 99.8,183.5 113.8,185.2 127.8,188.9 141.8,195.0 159.8,200.8 171.8,203.7 181.8,204.7 187.8,204.1 195.8,202.3 215.8,195.1 229.8,190.5 253.8,186.1 259.8,185.8 299.8,187.3 305.8,186.8 317.8,184.8 321.8,184.8 325.8,185.7 353.8,195.6 365.8,198.7 375.8,200.2 387.7,200.3 393.8,199.6 399.8,198.4 409.8,194.8 413.8,193.9 425.8,194.2 429.8,195.5 433.8,197.5 442.2,204.2 457.3,214.2 463.8,216.4 469.8,217.0 473.8,216.3 477.8,214.9 491.0,208.2 501.7,200.5 513.8,190.0 519.8,186.2 531.8,181.8Z"/>
<path fill="#ffb400" fill-rule="evenodd" d="M542.1,182.2 547.8,181.4 551.8,181.4 557.8,182.4 561.7,184.2 564.8,188.2 569.8,202.2 571.9,206.2 573.8,208.6 577.8,211.7 581.8,213.6 595.8,215.6 599.8,215.6 603.8,215.1 611.8,212.1 623.8,204.8 637.8,193.2 643.8,189.2 649.8,186.4 657.8,184.5 665.8,184.6 669.8,185.7 673.8,187.6 681.8,192.9 696.7,204.2 703.8,209.0 709.8,212.2 715.8,214.1 721.7,214.3 727.8,212.7 731.8,210.5 734.4,208.2 737.9,202.2 739.8,201.2 745.8,200.4 745.8,346.8 739.8,347.2 733.8,348.8 727.8,349.7 721.8,349.4 713.8,347.5 707.8,344.8 701.8,340.6 687.7,326.2 681.8,321.3 674.9,318.2 667.8,317.3 659.8,318.5 651.8,321.3 647.8,323.3 644.5,326.2 639.8,333.4 631.8,340.8 629.8,341.3 625.8,339.4 616.0,332.2 611.8,330.6 605.8,329.0 597.8,327.6 585.8,326.1 581.8,326.0 557.8,328.8 543.8,332.5 537.8,335.1 533.8,337.4 521.8,346.2 517.8,348.6 511.8,351.3 505.8,352.7 501.8,351.9 493.8,346.1 487.8,340.1 478.2,328.2 471.8,322.3 467.8,320.1 463.8,318.5 459.8,317.3 455.8,316.7 445.8,316.8 435.8,319.2 430.0,322.2 419.8,329.5 415.8,331.3 413.8,331.4 409.3,328.2 395.8,322.7 391.8,322.0 385.8,322.4 379.8,324.8 369.9,332.2 367.8,338.2 365.8,340.1 361.8,341.7 357.8,342.0 353.8,340.1 345.0,334.2 335.9,324.2 330.5,320.2 327.2,318.2 321.8,316.0 317.8,315.1 313.8,314.8 309.8,315.1 305.8,316.0 295.8,319.6 290.9,322.2 279.8,329.8 273.8,332.4 269.8,333.1 263.8,332.0 255.8,332.7 233.8,332.8 195.8,330.8 179.8,328.1 163.8,323.1 157.8,321.7 149.8,320.5 143.8,320.7 135.8,322.9 127.8,327.4 121.5,332.2 111.2,342.2 105.8,345.9 93.0,350.2 87.8,350.7 87.8,187.7 93.8,188.0 115.8,191.2 127.8,194.0 141.8,198.6 165.8,204.0 179.8,205.9 185.8,205.7 193.8,204.4 229.8,193.8 253.8,189.8 257.8,189.5 271.8,189.9 299.8,191.4 319.8,190.1 323.8,190.7 350.5,198.2 371.8,202.4 379.8,202.9 393.8,202.7 399.8,202.1 409.8,199.5 412.8,200.2 417.6,204.2 419.8,204.9 423.8,204.7 429.8,203.4 433.8,203.5 455.8,215.2 461.8,217.2 467.8,218.0 471.8,217.8 477.8,216.1 485.8,212.7 493.8,208.6 502.9,202.2 513.8,193.0 519.8,189.1 527.8,185.9Z"/>
<path fill="#ffa000" fill-rule="evenodd" d="M537.9,186.2 545.8,184.8 549.8,184.6 553.8,185.3 557.8,186.8 559.5,188.2 560.9,190.2 565.9,204.2 569.7,210.2 571.8,212.2 575.8,214.7 579.8,216.4 583.8,217.0 599.8,217.7 605.8,216.7 609.8,215.3 615.8,212.4 621.8,208.7 637.8,196.2 643.8,192.3 649.8,189.5 657.8,187.6 665.8,187.8 671.8,189.8 679.8,194.5 703.8,211.0 709.8,214.1 715.8,216.0 721.8,216.3 725.8,215.6 729.8,214.1 735.9,210.2 737.5,208.2 739.8,204.0 745.8,201.7 745.8,345.5 739.8,345.7 731.8,347.2 725.8,347.7 719.8,347.0 713.8,345.3 707.8,342.4 703.8,339.4 688.6,324.2 683.8,320.3 677.8,317.3 671.8,315.9 667.8,315.8 661.8,316.5 648.6,320.2 644.4,322.2 639.8,327.1 637.8,328.4 633.8,329.6 627.8,332.8 625.8,332.5 617.8,327.7 613.8,326.4 603.8,324.5 583.8,322.0 569.8,322.5 553.8,324.4 543.8,326.9 535.8,330.1 529.8,333.6 515.8,343.4 509.8,346.2 505.8,347.3 501.8,346.6 495.8,343.7 491.8,340.9 487.8,337.1 477.7,325.5 471.7,319.9 465.8,316.7 457.8,314.1 447.8,313.3 441.8,313.9 435.8,315.3 429.8,317.8 419.8,324.6 417.8,325.4 415.8,325.7 411.0,324.2 405.8,323.5 395.8,320.6 391.8,320.3 385.8,320.9 379.8,323.2 371.8,328.5 368.4,330.2 363.8,335.6 359.8,336.6 355.8,335.2 351.2,332.2 347.8,329.6 340.1,322.2 335.8,319.3 329.7,316.2 323.8,314.1 319.8,313.1 313.8,312.7 305.8,313.4 293.8,316.8 286.4,320.2 277.8,325.2 271.8,327.5 265.8,327.5 255.8,328.7 231.8,328.7 197.8,326.7 181.8,324.5 163.8,320.1 153.8,318.3 147.8,317.9 141.8,318.4 133.8,320.9 125.8,325.3 119.8,329.7 109.8,338.7 104.8,342.2 95.8,345.9 91.8,348.8 87.8,349.5 87.8,189.0 91.8,189.6 93.2,190.2 95.8,192.9 97.8,193.9 123.8,198.1 139.8,201.5 171.8,206.6 179.8,207.3 185.8,207.1 193.8,206.0 229.8,197.0 255.8,193.4 271.8,193.5 301.8,195.6 319.8,195.5 349.8,201.6 369.8,204.8 379.8,205.5 395.8,205.8 401.8,205.5 407.8,204.4 409.8,204.9 413.8,207.4 417.8,208.8 421.8,208.9 429.8,207.7 433.8,207.8 455.8,216.9 461.8,218.4 467.8,219.1 471.8,218.9 477.8,217.4 491.8,211.6 501.1,206.2 513.8,196.0 519.8,192.1 527.8,188.9Z"/>
<path fill="#ff8c00" fill-rule="evenodd" d="M546.8,188.2 551.8,188.9 554.7,190.2 556.6,192.2 557.8,194.2 561.9,206.2 564.3,210.2 566.0,212.2 571.8,216.7 575.8,218.5 579.8,219.4 599.8,219.8 605.8,218.9 609.8,217.7 615.8,215.0 621.8,211.5 639.4,198.2 643.8,195.6 651.3,192.2 657.8,190.9 661.8,190.8 665.8,191.3 671.8,193.3 679.8,197.7 703.8,213.2 711.8,217.0 717.8,218.4 721.8,218.5 725.8,217.8 733.8,214.7 737.9,212.2 739.9,210.2 741.8,206.1 743.9,204.2 745.7,203.7 745.8,343.8 739.8,343.6 731.8,344.9 725.8,345.2 719.8,344.6 713.8,342.7 709.0,340.2 705.8,337.9 691.8,324.2 685.8,319.2 679.8,316.0 671.8,314.2 665.8,314.3 657.8,315.6 643.8,319.4 637.8,322.3 625.8,324.4 623.8,324.3 616.4,322.2 607.8,320.9 579.8,317.7 565.8,318.1 553.8,319.4 543.8,321.5 535.8,324.3 527.8,328.5 511.8,339.2 507.8,341.0 503.8,341.8 497.8,340.6 491.8,337.3 485.8,331.6 475.8,320.6 471.8,317.3 463.8,313.5 455.8,311.4 445.8,310.7 434.4,312.2 428.4,314.2 419.8,319.7 415.8,320.7 405.8,320.1 395.8,318.4 391.8,318.3 385.8,319.1 379.8,321.4 371.8,326.4 361.8,331.1 359.8,331.0 355.8,329.1 344.5,320.2 337.1,316.2 323.8,311.7 319.8,311.0 313.8,310.6 305.8,311.1 295.8,313.0 287.8,315.4 271.8,322.2 259.6,324.2 253.8,324.7 229.8,324.5 201.8,322.8 183.8,320.8 153.8,315.6 147.8,315.3 141.8,315.7 133.8,317.9 123.8,323.0 117.8,327.1 104.0,338.2 93.8,343.1 91.1,346.2 89.8,347.2 87.8,347.7 87.8,190.8 89.8,191.3 91.0,192.2 93.8,197.4 95.8,198.7 97.8,199.3 116.6,202.2 175.8,208.7 183.8,208.9 193.8,207.8 219.8,202.2 243.7,198.4 257.8,197.1 269.8,197.1 319.8,200.8 369.8,207.6 405.8,209.4 413.8,211.7 417.8,212.2 431.8,211.7 455.8,218.6 461.8,219.8 467.8,220.2 473.8,219.7 477.8,218.7 487.8,215.3 495.8,211.9 503.8,207.2 515.8,198.1 522.1,194.2 527.4,192.2 535.3,190.2Z"/>
<path fill="#ff6e00" fill-rule="evenodd" d="M655.3,196.2 659.8,195.8 663.8,196.1 671.8,198.3 679.8,202.3 705.8,217.2 713.8,220.1 719.8,221.0 723.8,220.7 729.8,219.3 737.8,216.2 739.8,216.2 742.2,218.2 745.8,219.6 745.8,325.0 743.1,326.2 740.5,336.2 739.8,337.5 737.8,339.1 733.8,340.3 725.8,340.9 719.8,340.3 713.8,338.2 707.8,334.7 691.8,320.5 687.8,317.6 679.8,313.9 675.8,312.9 669.8,312.4 659.8,313.2 637.8,317.6 625.8,318.5 615.8,317.9 579.8,314.0 567.3,314.2 553.8,315.3 543.8,316.9 533.8,319.8 524.0,324.2 511.8,331.4 507.7,332.0 489.8,329.3 485.8,327.0 475.8,317.2 470.8,314.2 465.8,312.1 459.8,310.3 447.8,309.0 439.8,309.4 427.8,311.2 424.9,312.2 419.8,315.4 415.8,316.6 407.8,316.6 395.8,315.6 387.8,316.5 379.8,319.2 369.8,324.6 363.8,325.6 359.8,325.1 355.8,323.6 347.8,318.2 337.8,313.6 325.8,310.0 315.8,308.6 305.8,308.8 294.8,310.2 286.5,312.2 271.8,317.4 259.8,319.8 253.8,320.3 231.8,320.2 205.8,318.8 185.8,317.0 153.8,313.0 143.8,312.8 135.8,314.2 124.9,318.2 115.8,323.4 101.8,333.3 97.8,335.2 95.8,335.5 93.8,334.4 92.6,332.2 90.3,322.2 87.8,321.0 87.8,209.6 89.8,209.0 93.8,204.6 95.8,204.0 117.8,207.0 133.8,208.5 183.8,211.2 195.8,210.0 216.6,206.2 237.8,203.4 255.8,201.8 269.8,201.6 365.8,210.8 393.8,212.6 415.8,215.7 429.8,215.3 457.8,220.8 467.8,221.6 473.8,221.1 479.8,219.8 493.8,215.3 499.8,212.7 509.8,207.4 529.8,199.3 533.8,198.8 541.8,200.1 549.8,198.4 551.8,198.8 553.8,200.2 555.7,204.2 555.8,210.2 557.6,212.2 569.8,219.4 573.8,221.1 577.8,222.0 589.8,221.7 597.8,222.0 605.8,221.1 615.8,217.9 626.2,212.2 643.8,200.4 649.8,197.8Z"/>
<path fill="#ff5000" fill-rule="evenodd" d="M653.7,204.2 657.8,203.5 661.8,203.4 669.8,205.0 679.8,209.0 704.4,220.2 713.8,223.2 719.8,223.8 723.8,223.6 737.7,220.3 745.8,221.6 745.8,322.9 743.8,323.1 740.7,324.2 737.8,329.9 735.8,331.5 731.8,332.4 725.8,332.9 721.8,332.8 717.8,331.9 709.8,328.5 691.8,316.4 687.2,314.2 679.8,311.6 669.8,310.4 661.8,310.8 639.8,313.6 627.8,314.4 615.8,314.0 581.8,310.8 563.8,311.4 545.8,312.8 537.8,314.1 529.8,316.1 519.8,319.6 509.8,324.2 505.8,325.0 493.8,323.5 489.8,322.6 476.9,314.2 465.8,310.2 455.9,308.2 447.8,307.7 425.8,308.9 423.8,309.4 417.8,312.3 415.8,312.7 397.7,311.8 391.8,312.3 381.8,315.3 369.8,321.0 365.8,321.7 357.8,320.4 346.3,314.2 335.0,310.2 323.8,307.6 311.8,306.6 303.8,306.8 293.8,307.7 285.8,309.2 269.8,313.3 257.8,315.2 251.8,315.6 233.8,315.5 207.8,314.3 177.8,312.5 151.8,310.1 141.8,310.1 133.8,311.4 121.8,314.6 105.7,321.8 97.8,326.3 95.8,325.7 92.7,320.2 89.8,319.1 87.8,318.9 87.8,211.6 91.8,211.0 95.8,208.5 99.7,208.4 137.8,213.8 159.8,213.2 185.7,214.7 195.8,213.9 217.8,210.6 231.8,209.0 249.8,207.6 265.8,207.1 361.8,215.1 391.8,216.7 415.8,219.7 429.8,219.1 455.7,222.6 465.8,223.2 473.8,222.6 481.8,221.3 495.8,217.6 509.8,212.4 523.8,209.2 529.8,208.7 547.8,213.8 569.8,222.8 573.8,224.0 577.8,224.6 601.8,223.8 613.8,221.6 627.8,216.4 645.8,206.8Z"/>
<path fill="#ff3700" fill-rule="evenodd" d="M95.6,212.2 99.8,212.3 109.8,213.7 137.8,219.0 147.8,217.9 161.8,217.0 183.8,218.7 189.8,218.8 229.8,214.1 245.8,213.2 263.8,212.8 359.8,219.8 393.8,221.3 415.8,223.7 429.8,222.8 461.8,225.1 469.8,224.8 481.8,223.4 498.2,220.2 511.8,216.7 523.8,214.4 527.8,214.2 547.8,218.8 563.8,224.5 573.8,226.8 577.8,227.1 603.8,225.8 615.2,224.2 629.8,220.8 649.8,213.0 659.8,211.1 667.8,212.0 683.8,217.1 704.2,224.2 713.8,226.5 723.8,226.7 733.8,224.9 739.8,223.1 745.8,222.9 745.8,321.6 739.8,321.9 733.8,323.6 727.8,324.5 723.8,324.7 719.8,324.3 711.8,321.9 699.8,316.6 693.8,313.3 685.8,310.8 677.8,309.0 667.8,308.4 627.8,310.7 617.8,310.3 583.8,307.7 543.8,309.4 533.8,310.4 519.8,313.1 505.8,317.7 501.8,318.0 493.8,316.9 477.8,311.0 461.8,307.8 449.8,306.6 431.8,307.3 423.8,306.4 415.8,308.9 399.8,307.7 391.8,308.3 383.8,310.9 369.8,317.1 365.8,317.9 359.8,317.2 343.8,310.6 331.8,307.3 319.8,305.2 307.8,304.6 291.8,305.3 269.8,309.0 255.8,310.5 249.8,310.7 231.8,310.6 169.8,308.6 147.8,307.3 139.8,307.3 119.7,310.1 101.8,315.4 97.8,317.5 95.8,318.0 87.8,317.6 87.8,212.9Z"/>
<path fill="#ff1900" fill-rule="evenodd" d="M87.8,214.2 91.8,214.3 97.8,215.9 111.8,217.8 121.8,220.1 133.8,223.8 137.8,224.2 161.8,220.9 169.8,221.1 183.8,222.8 189.8,223.0 227.8,219.1 241.8,218.5 259.8,218.5 359.8,224.7 393.8,225.7 415.8,227.7 429.8,226.5 459.8,227.3 481.8,225.7 523.8,219.8 529.8,220.3 537.8,222.3 547.8,223.8 561.8,227.8 573.8,229.4 577.8,229.6 591.8,228.3 613.8,227.4 629.8,225.6 639.8,223.3 649.8,220.3 657.8,218.9 661.8,218.8 665.8,219.1 679.8,222.1 707.8,228.9 713.8,229.8 719.8,230.0 725.8,229.6 733.8,228.4 735.8,227.9 741.8,224.5 745.8,224.1 745.8,320.4 741.8,319.9 738.8,318.2 737.8,316.6 735.8,315.3 723.8,316.4 719.8,316.2 701.8,312.2 693.8,309.7 681.8,307.3 671.8,306.4 625.8,306.8 585.8,304.6 559.8,305.9 535.8,305.9 517.8,307.3 503.8,310.8 499.8,311.2 479.7,308.0 471.8,307.7 453.8,305.7 445.8,305.4 431.8,305.8 421.7,303.9 415.8,304.9 397.8,303.5 393.8,303.8 389.8,304.8 371.8,312.7 367.8,313.8 363.8,314.1 357.8,312.9 341.8,307.6 329.8,304.9 315.8,303.0 301.8,302.4 287.8,302.8 269.8,304.7 247.8,305.9 201.8,304.9 165.8,305.3 141.8,304.4 121.8,305.0 99.8,308.1 97.8,309.0 93.8,314.8 91.8,316.0 87.8,316.4Z"/>
<path fill="#fa0000" fill-rule="evenodd" d="M87.8,216.2 87.8,215.6 91.5,216.2 95.8,219.4 111.8,221.7 120.3,224.2 131.8,228.6 137.8,229.5 141.8,229.0 155.8,225.6 163.8,224.7 171.8,225.0 183.8,226.9 189.8,227.3 221.8,224.4 241.8,223.7 259.8,224.2 273.8,225.5 321.8,227.3 357.8,229.4 395.8,230.2 417.8,231.8 429.8,230.2 461.8,229.5 521.8,225.4 527.8,225.9 537.8,227.7 547.8,228.9 559.8,231.2 573.8,232.1 599.8,230.2 631.8,229.9 653.8,227.0 661.8,226.4 681.8,228.4 707.8,232.5 717.8,233.1 725.8,232.7 735.8,231.4 738.6,230.2 742.5,226.3 745.8,225.6 745.8,318.8 742.8,318.2 741.8,317.1 739.5,310.2 737.8,307.5 735.8,306.9 721.8,308.3 705.8,307.8 675.8,304.4 625.8,303.0 587.8,301.4 573.8,302.6 557.8,303.0 527.8,301.4 517.8,301.3 511.8,301.9 499.8,304.2 491.8,304.0 471.8,305.2 449.8,304.3 433.8,304.4 429.8,303.9 421.8,301.3 399.8,299.3 393.8,299.7 389.8,300.7 371.8,309.0 367.8,310.0 363.8,310.3 359.8,309.9 341.8,305.2 329.8,302.8 313.8,300.8 297.8,299.9 261.8,300.3 241.8,301.1 201.8,300.3 161.8,302.3 119.8,300.5 99.8,300.9 97.8,301.1 95.8,302.1 93.8,305.8 91.8,313.1 90.7,314.2 87.8,314.8Z"/>
<path fill="#dc001e" fill-rule="evenodd" d="M87.8,224.2 87.8,222.5 91.8,223.8 103.8,224.5 109.8,225.4 117.8,228.0 129.8,233.4 135.8,234.7 141.8,234.1 157.8,229.5 165.8,228.7 171.8,229.0 183.8,231.3 189.8,231.8 197.8,231.4 221.8,229.1 239.8,228.7 255.8,229.4 275.8,231.3 319.8,232.5 361.8,234.4 395.8,234.6 415.8,235.8 419.8,235.7 431.8,233.9 481.8,230.8 497.8,230.3 519.8,231.0 559.8,235.0 575.8,235.1 593.8,233.2 603.8,232.8 633.8,234.5 661.8,233.4 673.8,233.5 705.8,236.1 715.8,236.4 725.8,235.9 739.1,234.2 744.8,232.2 745.8,231.3 745.8,300.2 741.8,299.1 737.8,299.1 707.8,302.6 699.8,303.0 633.8,299.5 595.8,297.9 587.8,297.9 569.8,299.4 555.8,299.5 515.8,295.6 505.8,296.3 471.8,302.2 435.8,302.5 429.8,301.8 421.8,298.6 417.8,297.7 405.8,295.7 397.8,295.3 391.8,295.9 387.8,297.0 371.8,304.8 367.8,305.9 363.8,306.2 357.8,305.7 337.8,301.6 323.8,299.5 307.8,297.8 291.8,296.7 259.8,296.0 239.8,296.5 205.8,295.8 193.8,296.3 169.8,298.5 157.8,299.1 141.8,298.4 115.8,295.9 97.8,294.7 91.8,294.8 87.8,296.2Z"/>
<path fill="#be003c" fill-rule="evenodd" d="M87.8,230.2 87.8,229.3 101.8,229.3 107.8,229.9 115.4,232.2 129.8,238.8 135.8,239.8 141.8,239.1 157.8,234.4 165.8,233.4 171.8,233.8 183.8,236.5 189.8,237.1 221.8,233.8 239.8,233.2 255.8,234.0 275.8,236.5 319.8,237.5 361.8,239.4 395.8,239.2 415.8,240.0 435.8,237.7 471.8,235.2 487.8,234.7 503.8,235.2 539.8,238.9 553.8,239.7 575.8,239.0 589.8,236.9 599.8,236.1 605.8,236.3 623.7,238.5 637.8,239.6 673.8,238.7 707.8,240.6 717.8,240.1 737.8,237.6 745.8,237.2 745.8,293.3 703.8,298.3 687.8,298.6 669.8,298.1 625.8,294.9 603.8,293.9 589.8,293.8 571.8,295.0 555.8,295.0 543.8,293.9 521.8,290.4 511.8,289.9 497.8,291.4 477.8,295.8 467.8,297.5 453.8,298.8 441.8,299.3 431.8,298.8 419.8,294.7 409.8,292.6 401.8,291.5 395.8,291.4 389.8,291.9 385.8,292.9 369.8,299.8 365.8,300.7 361.8,300.9 353.8,300.4 311.8,294.6 295.8,293.1 277.8,292.3 257.8,292.0 237.8,292.5 203.8,291.8 189.8,292.4 159.8,295.3 149.8,295.2 137.9,294.2 87.8,289.3Z"/>
<path fill="#96005a" fill-rule="evenodd" d="M87.8,236.2 87.8,235.7 99.8,235.4 107.8,236.1 113.8,237.9 127.8,244.1 131.8,245.2 135.8,245.5 141.8,244.8 157.8,240.1 165.8,239.0 171.8,239.4 183.8,242.5 189.8,243.2 195.7,242.8 223.8,239.2 241.7,238.5 255.8,239.3 271.8,241.8 311.8,243.1 367.8,246.5 393.8,245.1 417.8,244.9 437.8,242.2 461.8,240.5 481.8,239.9 499.8,240.3 523.8,243.7 551.8,245.8 569.8,244.8 577.8,243.9 589.8,241.7 599.8,241.0 605.8,241.5 621.8,243.9 639.8,245.7 671.8,244.5 707.8,246.2 717.8,245.4 732.2,242.2 745.8,240.8 745.8,288.8 699.8,293.4 681.8,293.7 609.8,288.9 591.8,288.6 571.8,289.5 555.8,289.2 545.1,288.2 521.8,284.1 511.8,283.5 497.8,284.7 467.8,290.8 451.8,293.1 441.8,294.0 431.8,293.6 415.8,289.3 403.8,287.0 397.8,286.4 389.8,286.4 383.8,287.3 375.8,289.3 370.0,292.2 365.7,293.7 361.8,294.4 353.8,294.7 343.8,293.9 305.8,288.9 285.8,287.6 271.8,287.3 239.8,288.3 199.8,287.4 185.8,288.1 165.6,290.2 153.8,290.6 141.8,290.0 107.8,286.6 87.8,285.7Z"/>
<path fill="#780073" fill-rule="evenodd" d="M87.8,248.2 95.8,247.4 105.8,248.2 123.8,253.7 129.8,255.2 133.8,255.6 141.8,254.9 159.4,250.2 167.8,249.1 173.8,249.7 183.8,252.0 191.8,252.9 199.8,252.6 222.7,250.2 245.8,249.4 255.8,249.6 265.8,250.6 295.8,251.7 301.7,252.3 311.5,254.3 337.8,262.0 349.8,264.2 353.5,266.2 355.3,268.2 355.8,272.2 354.6,278.2 353.0,282.2 351.2,284.2 349.8,285.1 345.8,286.1 335.8,285.0 311.8,280.6 299.8,279.4 285.8,278.6 269.8,278.5 255.8,280.3 243.8,281.0 227.8,280.8 209.8,279.8 191.8,279.7 163.5,282.2 155.8,282.5 145.8,282.2 109.8,278.9 87.8,278.1ZM460.1,248.2 485.8,247.6 499.6,248.2 531.8,254.6 549.8,256.5 563.8,256.1 589.8,251.8 595.8,251.4 603.8,252.2 617.8,254.7 637.8,256.8 661.8,255.9 671.8,255.9 681.8,256.6 701.8,259.1 711.8,259.7 717.8,259.5 721.8,258.7 725.8,256.6 730.9,252.2 733.8,250.8 737.8,249.8 741.8,249.6 745.8,250.2 745.8,279.0 723.8,281.0 699.8,284.7 693.8,285.1 681.8,284.8 609.8,279.0 589.8,278.6 573.8,279.7 559.8,279.3 547.8,277.7 521.8,271.8 511.8,271.1 505.8,271.6 495.8,273.4 462.9,282.2 450.8,284.2 441.8,284.8 431.8,283.7 415.8,280.0 401.8,275.5 389.8,273.3 387.2,272.2 384.9,270.2 383.9,268.2 383.8,266.3 384.6,264.2 386.9,262.2 389.8,261.0 407.7,256.2 435.3,250.2Z"/>
</g>
</g>
<defs><clipPath id="dom"><path d="M93.1 166.6 L93.6 150.0 L94.7 139.9 L96.0 130.9 L98.3 123.8 L101.9 117.9 L106.4 113.4 L112.7 110.7 L119.8 108.5 L128.8 107.1 L142.3 106.7 L153.1 106.6 L679.2 106.6 L690.0 106.7 L703.5 107.1 L712.5 108.5 L719.6 110.7 L725.9 113.4 L730.4 117.9 L734.0 123.8 L736.3 130.9 L737.6 139.9 L738.7 150.0 L739.2 166.6 L739.2 365.1 L738.7 381.7 L737.6 391.8 L736.3 400.8 L734.0 407.9 L730.4 413.8 L725.9 418.3 L719.6 421.0 L712.5 423.2 L703.5 424.6 L690.0 425.0 L679.2 425.1 L153.1 425.1 L142.3 425.0 L128.8 424.6 L119.8 423.2 L112.7 421.0 L106.4 418.3 L101.9 413.8 L98.3 407.9 L96.0 400.8 L94.7 391.8 L93.6 381.7 L93.1 365.1Z"/></clipPath></defs>
<g id="coast" fill="none" stroke="#000" stroke-width="0.8" stroke-linejoin="round">
<path d="M111.4,146.4 114.1,145.3 119.5,144.6 122.6,145.3 119.0,142.8 115.0,141.4 120.4,139.2 127.7,137.0 132.1,136.1 140.4,137.0 147.7,137.7 154.9,138.4 160.4,139.2 167.6,140.3 171.2,139.4 178.5,138.4 183.9,137.7 189.4,138.4 191.2,139.5 196.6,138.8 203.9,140.3 207.5,141.7 210.2,142.4 216.6,142.3 220.2,143.0 220.2,141.2 225.7,141.2 231.1,142.4 237.5,142.4 240.2,141.2 242.9,140.6 242.0,138.1 243.8,135.2 246.5,136.6 249.2,138.4 251.1,139.5 252.9,141.0 256.5,141.2 256.9,143.0 260.1,142.4 261.0,140.3 266.5,139.0 268.3,141.0 267.4,143.0 264.7,145.2 260.1,145.3 260.1,147.2 257.4,148.8 253.2,149.3 251.1,150.4 248.0,152.3 245.6,154.4 244.3,156.6 244.5,158.8 247.4,159.2 248.7,162.1 254.7,162.3 257.4,163.9 261.9,165.2 266.8,165.5 267.0,169.3 269.2,171.5 271.6,172.4 273.2,170.8 272.8,167.5 271.7,166.2 275.0,165.2 277.2,163.2 276.5,161.0 273.7,159.0 275.6,156.6 274.6,153.9 275.4,152.1 281.0,152.4 285.5,153.5 289.2,154.8 290.1,157.0 291.9,159.3 295.5,159.2 297.3,157.5 299.0,155.9 301.9,158.8 304.0,161.5 306.8,164.2 310.9,166.1 313.6,168.4 314.9,170.8 312.7,172.1 309.1,173.3 306.4,174.4 300.0,174.2 295.5,174.4 291.9,176.6 289.2,179.2 287.0,180.6 290.1,178.8 293.7,176.8 298.2,176.2 299.5,177.3 297.3,178.8 298.6,180.4 300.4,181.7 303.7,182.4 305.5,183.0 307.3,181.7 306.4,180.2 304.6,183.0 301.0,184.6 297.3,186.4 296.1,185.1 298.6,183.3 296.4,183.5 294.6,184.2 291.0,185.7 288.6,186.4 287.7,188.2 289.2,189.7 287.0,190.2 284.6,190.8 281.9,191.9 281.5,193.7 280.1,195.0 279.0,196.8 278.3,198.4 277.4,195.7 277.7,198.0 278.6,200.6 279.2,201.7 277.0,202.6 274.6,204.0 272.3,205.5 269.6,207.3 268.5,209.3 268.7,211.5 269.9,214.0 270.8,216.9 270.5,219.5 268.8,219.9 267.8,217.9 266.1,215.3 265.9,213.0 264.1,211.3 261.9,211.7 259.8,210.4 256.5,210.6 254.0,210.8 254.1,212.6 252.3,212.6 250.2,212.0 246.5,211.5 244.2,212.4 242.0,213.9 239.6,215.7 239.8,218.6 238.9,222.0 238.7,224.9 239.6,226.9 241.1,229.7 242.5,231.5 245.1,232.6 248.3,232.0 250.5,231.5 251.8,229.7 252.1,227.5 255.6,226.6 258.3,226.6 257.6,229.3 256.9,232.2 256.0,234.4 255.1,236.8 257.4,236.9 260.1,236.8 262.9,236.9 265.2,238.4 264.8,241.1 264.3,243.8 264.5,245.8 265.9,248.0 267.4,249.3 269.2,249.7 271.6,248.4 273.7,248.6 275.7,250.0 276.6,250.7 277.4,249.3 279.0,247.8 279.7,246.2 281.9,245.3 284.6,244.2 286.4,243.1 286.8,244.8 285.9,246.0 286.6,246.0 288.8,244.8 289.5,243.7 291.9,245.7 292.8,246.6 296.4,246.4 299.1,247.1 302.8,246.4 303.9,247.5 305.8,249.3 307.3,250.4 309.8,252.6 312.4,254.7 316.4,254.9 320.0,255.8 322.7,257.8 323.6,260.2 325.1,262.7 325.4,265.3 328.2,266.6 330.0,266.9 332.7,267.6 335.4,268.9 335.8,270.6 339.0,270.7 341.8,270.9 344.5,271.5 346.7,272.7 349.0,274.4 351.9,274.9 352.8,278.0 352.8,280.7 351.7,283.1 349.8,285.1 348.1,287.5 346.1,289.3 345.4,292.0 345.4,295.6 344.9,298.4 343.9,301.3 342.1,304.4 340.3,306.7 337.8,307.4 335.1,308.0 332.2,309.3 329.4,311.1 328.0,313.3 328.0,316.2 326.3,318.7 324.4,321.6 321.8,324.0 319.5,326.9 317.3,328.7 314.6,329.1 311.3,328.3 310.0,327.4 312.2,330.0 313.1,331.8 311.7,334.7 309.1,336.0 304.6,336.5 303.1,338.0 303.1,339.8 300.4,340.5 298.2,340.0 298.0,342.0 300.4,342.3 300.4,343.6 297.9,344.3 297.3,347.1 294.6,348.2 293.5,349.8 296.4,351.4 296.4,353.2 293.7,355.2 291.3,357.1 291.0,359.4 292.1,360.9 290.1,360.7 287.7,361.8 287.3,363.4 285.0,362.9 282.8,361.6 280.8,359.2 279.5,356.5 281.0,352.9 279.2,350.7 281.5,347.8 283.7,344.7 284.1,342.0 282.3,341.4 282.6,338.0 283.2,333.4 284.4,330.2 286.1,326.2 286.4,321.1 286.8,317.4 288.1,312.9 288.3,308.4 288.8,303.8 288.6,299.1 286.4,297.1 282.8,295.3 279.5,293.3 277.7,290.7 276.1,287.5 274.3,283.8 272.8,280.6 271.2,278.0 268.8,276.6 268.7,273.6 270.5,271.8 271.0,270.4 269.4,269.6 270.1,267.1 271.0,265.1 272.5,263.8 273.6,262.4 275.2,260.7 276.1,258.7 275.6,255.7 275.7,252.9 274.1,251.1 274.1,249.5 271.9,249.5 270.3,250.7 271.0,252.2 269.2,252.4 267.4,250.9 265.6,250.6 264.1,249.8 262.3,248.0 260.7,247.5 260.5,245.7 258.7,243.3 257.2,242.0 255.1,241.7 252.9,240.6 250.2,240.2 248.5,238.9 245.6,236.4 242.9,236.8 240.5,236.9 237.5,235.8 234.7,234.8 231.5,233.3 228.4,232.2 225.7,230.2 224.8,228.4 225.1,226.2 223.8,223.9 221.1,221.1 218.8,219.3 217.7,217.1 215.5,215.1 213.0,213.0 211.5,210.8 210.8,209.0 208.1,208.0 208.2,210.2 209.9,212.6 211.5,214.8 213.0,216.9 214.4,219.3 215.7,221.5 217.3,223.3 216.4,224.0 214.8,222.4 212.8,220.6 212.4,218.4 209.7,216.8 207.9,215.1 209.0,213.7 207.5,211.7 205.9,210.2 204.6,208.2 203.7,206.6 201.5,204.2 199.5,203.5 197.4,202.8 197.0,201.1 195.0,199.1 193.9,197.3 193.0,196.1 191.6,194.1 190.5,192.2 191.0,189.7 190.3,187.7 191.2,184.8 191.4,181.7 189.9,177.9 193.0,178.1 193.9,179.5 193.4,176.6 191.2,175.2 188.5,173.7 185.2,172.4 184.3,170.4 182.1,168.4 179.8,166.6 177.6,164.8 175.8,163.0 173.1,160.3 170.3,158.1 167.6,159.2 164.0,157.0 159.4,156.6 154.9,156.4 151.3,155.2 147.7,155.3 144.8,157.2 141.3,157.9 143.1,154.6 139.5,155.9 137.3,157.9 135.9,159.9 132.2,161.5 128.6,163.5 124.4,165.0 120.4,166.1 117.2,166.6 119.9,165.2 124.1,163.9 127.7,161.7 130.4,159.2 127.7,158.8 123.2,158.8 122.3,157.0 118.6,156.6 116.3,154.8 115.9,152.4 118.6,151.2 123.2,150.1 124.1,148.3 119.5,148.4 115.0,148.1 111.4,146.4M249.2,180.8 252.9,179.2 256.5,177.7 260.1,178.4 262.5,180.6 259.2,181.1 255.6,180.4 252.0,181.0 249.2,180.8M257.0,189.7 259.2,189.3 259.6,185.7 261.9,182.8 263.8,182.1 266.5,183.1 268.3,184.2 271.0,184.6 267.9,187.0 266.5,187.5 264.7,186.1 265.0,183.9 262.7,182.6 260.5,183.5 258.3,183.9 256.9,186.6 257.0,189.7M265.0,189.3 269.2,188.2 272.8,187.9 271.9,186.8 276.5,187.0 277.7,185.9 274.6,186.2 271.9,186.4M261.9,226.0 265.6,224.0 269.2,223.7 272.8,224.8 276.5,226.6 280.1,228.4 281.5,228.9 279.2,229.5 275.2,229.5 274.6,228.0 271.0,226.2 267.4,225.1 264.7,225.5 261.9,226.0M281.2,232.2 284.1,229.5 287.3,229.7 290.1,230.8 292.1,231.8 290.1,232.4 287.3,232.8 285.9,233.5 284.1,232.6 281.2,232.2M274.1,232.4 276.5,232.0 277.9,232.9 275.6,233.3 274.1,232.4M294.2,232.2 297.0,232.2 296.8,232.9 294.2,232.9 294.2,232.2M308.6,179.2 310.6,176.2 312.7,173.3 315.3,172.1 314.6,174.4 316.4,175.7 318.5,175.7 320.0,177.9 320.5,179.7 318.9,180.8 316.7,180.2 314.9,180.4 311.8,179.2 308.6,179.2M183.4,173.3 187.6,174.2 191.2,176.6 192.3,177.7 189.7,177.3 186.7,175.7 183.4,173.3M174.9,167.3 177.0,167.9 178.1,170.8 175.8,169.3 174.9,167.3M135.9,161.0 139.5,160.3 140.0,161.5 137.1,162.4 135.9,161.0M291.7,361.2 292.4,362.9 295.5,364.7 297.9,365.1 295.0,366.0 291.0,366.0 287.3,365.2 285.5,364.1 288.3,363.2 290.1,362.7 291.7,361.2M305.5,359.2 309.1,358.9 311.3,359.6 309.1,360.7 305.5,360.1 305.5,359.2"/>
<path d="M304.6,144.4 301.0,147.5 298.2,150.3 297.3,153.0 292.8,152.1 289.2,151.5 284.6,149.7 280.1,148.4 275.0,148.8 274.6,147.2 281.9,146.6 282.8,144.8 284.6,143.0 280.1,141.7 276.5,139.4 272.8,138.4 267.4,138.6 261.9,138.4 256.5,137.4 253.8,135.7 254.7,132.6 260.1,131.5 267.4,131.7 271.0,133.5 276.5,133.5 281.9,135.4 287.3,136.6 291.9,138.4 294.6,140.3 298.2,142.4 301.9,143.5 304.6,144.4M258.3,147.2 261.9,146.1 264.7,147.2 268.3,148.8 270.1,150.3 265.6,150.8 261.0,150.8 258.3,149.7 260.1,148.4 258.3,147.2M203.9,138.6 209.3,139.7 214.8,141.0 220.2,140.6 225.7,140.3 231.1,139.7 232.9,138.4 227.5,137.5 225.7,134.4 222.0,132.6 216.6,133.2 209.3,132.4 202.1,133.7 200.3,135.7 203.0,137.4 203.9,138.6M188.5,134.8 193.0,136.3 196.6,135.7 199.4,133.0 203.9,130.8 196.6,130.3 190.3,130.6 188.5,134.8M230.2,134.8 236.5,136.1 241.1,133.9 240.2,131.5 234.7,131.2 230.2,133.0 230.2,134.8M242.9,134.8 247.4,134.4 252.0,133.0 252.0,131.2 246.5,130.8 242.9,132.4 242.9,134.8M235.6,139.9 240.2,141.0 242.9,139.7 240.2,138.4 235.6,139.9M203.9,129.0 211.1,130.4 220.2,129.7 224.8,128.4 220.2,126.6 213.0,127.0 203.9,127.0 203.9,129.0M227.5,128.8 236.5,129.4 239.3,127.5 234.7,126.1 227.5,127.0 227.5,128.8M242.0,128.4 249.2,129.9 260.1,130.3 270.1,129.9 271.0,128.3 263.8,126.8 254.7,127.0 247.4,126.1 242.0,126.6 242.0,128.4M254.7,126.6 263.8,126.6 273.7,126.6 276.5,123.9 283.7,123.0 292.8,120.3 301.9,117.0 296.4,115.2 280.1,114.6 261.9,116.1 251.1,117.5 253.8,119.7 260.1,121.2 256.5,123.4 254.7,126.6M242.0,120.6 249.2,123.4 257.4,123.0 256.5,120.3 247.4,118.1 242.0,120.6M193.9,127.5 201.2,127.9 205.7,125.7 200.3,124.8 193.9,127.5M225.7,123.9 234.7,124.3 236.5,122.5 229.3,121.5 225.7,123.9M283.7,123.5 291.9,127.2 295.5,127.5 307.3,127.5 311.8,130.3 315.5,133.9 317.3,137.5 323.6,138.8 319.1,140.6 319.1,143.9 321.8,147.5 325.4,151.2 328.2,154.4 334.5,156.6 338.1,156.6 339.0,153.9 340.9,151.2 343.6,147.5 349.0,146.1 357.2,142.1 367.2,141.2 373.5,138.8 376.2,137.5 372.6,135.7 376.2,133.9 372.6,133.0 379.0,131.2 380.8,127.5 378.1,125.7 383.5,123.0 384.4,120.3 394.4,117.5 379.9,117.0 370.8,114.8 356.3,113.7 340.0,114.8 325.4,115.9 310.9,116.3 303.7,117.9 298.2,119.9 292.8,121.7 283.7,123.5M372.1,146.4 376.2,145.0 379.9,146.1 383.5,145.3 387.1,144.8 389.7,146.4 391.5,147.9 388.0,149.0 383.5,150.3 379.0,150.1 375.3,149.5 376.2,148.3 372.6,147.7 375.3,146.8 372.1,146.4M436.1,121.2 441.5,120.6 448.8,120.5 454.2,122.5 449.7,124.8 446.1,126.3 441.5,124.8 437.9,122.6 436.1,121.2M449.7,119.9 457.9,119.4 465.1,120.1 459.7,121.5 452.4,121.2 449.7,119.9M509.6,135.7 513.2,137.0 519.6,137.2 517.7,134.8 516.8,132.4 521.4,130.8 526.8,128.8 535.9,127.0 541.3,125.9 537.7,125.7 528.6,127.0 520.5,128.4 515.9,130.8 512.3,133.0 509.6,135.7M501.4,119.4 510.5,118.8 521.4,119.2 528.6,118.6 521.4,117.4 506.9,118.5 501.4,119.4M588.5,122.1 597.6,123.5 604.8,123.0 606.6,121.2 597.6,119.0 590.3,119.4 588.5,122.1M664.7,128.4 671.9,129.4 679.2,128.8 688.3,129.0 682.8,127.5 670.1,127.2 664.7,128.4M670.1,131.5 675.6,132.4 673.8,131.2 670.1,131.5M740.0,136.3 742.7,135.7M89.6,135.7 93.2,136.3 92.3,136.8 89.6,136.8M742.7,136.8 740.9,137.0 740.0,136.3"/>
<path d="M742.7,140.6 737.3,139.4 730.0,138.8 725.5,140.3 719.1,139.2 710.0,139.2 706.4,137.5 697.3,136.6 688.3,135.7 682.8,134.4 671.9,133.5 666.5,135.7 657.4,135.7 652.0,137.0 648.4,133.9 644.7,132.1 637.5,133.0 630.2,132.1 623.0,131.7 620.2,129.4 612.1,126.6 604.8,124.6 597.6,127.0 586.7,127.9 575.8,128.8 573.1,131.5 564.9,131.9 562.2,133.9 555.8,134.8 550.4,133.4 548.6,136.1 550.0,140.3 549.5,143.9 546.8,144.8 544.0,144.6 541.3,141.2 537.7,139.4 533.2,139.9 525.9,139.2 521.4,140.6 515.0,141.5 510.5,141.2 503.2,142.6 500.5,144.3 496.0,145.2 495.1,141.5 488.7,142.4 490.5,144.3 488.7,145.3 485.1,145.3 478.7,144.8 476.9,143.9 481.5,144.1 489.6,145.2 490.9,143.5 485.1,141.5 476.9,139.5 472.4,138.8 467.9,136.6 462.4,136.6 456.1,137.9 450.6,139.0 445.2,140.8 441.5,143.0 438.8,145.7 435.2,148.4 430.7,150.6 426.1,153.0 425.2,155.7 426.1,158.4 428.8,160.3 431.6,159.9 435.2,158.1 436.5,159.3 437.9,163.0 439.4,164.6 441.9,164.8 445.7,163.0 446.4,160.6 449.2,158.1 447.9,155.5 447.5,152.6 449.7,150.8 453.3,149.3 454.8,147.5 456.6,146.1 460.6,146.3 462.0,147.9 459.7,149.3 455.2,151.2 455.2,153.9 456.1,155.9 458.8,156.8 463.3,155.9 467.9,155.5 470.6,156.8 466.9,157.5 459.7,157.7 458.8,159.3 460.2,161.2 456.1,161.0 454.2,163.0 454.2,165.3 452.1,166.6 449.7,166.1 446.1,166.6 441.9,167.7 437.9,167.2 435.7,167.5 434.3,165.7 435.2,163.0 435.2,161.0 431.0,162.1 431.0,164.8 432.1,167.5 428.8,168.4 425.2,168.8 423.4,171.2 421.6,172.4 419.4,173.2 418.9,174.8 416.1,175.7 413.8,175.3 412.9,177.2 410.7,177.0 407.6,177.5 408.3,178.8 411.6,179.7 414.0,182.1 413.8,184.8 412.9,186.8 408.9,186.6 405.3,186.4 401.6,186.2 399.5,187.5 400.2,190.2 399.1,194.8 399.8,198.4 402.7,198.2 404.7,199.3 406.2,200.2 408.2,199.0 412.2,198.8 414.9,197.3 416.1,195.3 415.6,193.9 417.6,191.5 421.8,189.7 421.8,187.5 424.3,186.8 427.9,187.3 430.3,186.1 432.5,185.0 434.8,186.1 436.1,188.4 438.5,189.9 441.2,191.0 444.3,193.0 445.2,195.1 444.6,196.6 446.3,195.7 447.2,193.9 446.3,193.0 448.6,192.4 449.7,192.8 448.8,191.7 445.2,189.7 444.3,189.3 441.5,188.2 440.6,186.4 438.6,185.3 438.5,183.3 441.0,182.6 441.0,184.1 443.4,184.6 445.2,186.6 447.9,187.7 450.6,189.3 451.5,191.1 451.5,193.0 453.3,194.8 454.6,196.1 455.2,198.4 457.0,199.3 457.9,197.7 458.2,196.6 459.7,196.6 457.9,194.4 457.5,192.2 459.7,192.6 460.6,191.5 463.3,191.5 464.2,192.4 463.7,193.9 465.1,195.7 465.7,198.4 467.5,199.0 471.7,198.8 475.1,200.0 478.7,199.0 481.5,199.0 481.5,201.1 480.9,203.9 479.6,206.2 478.4,208.8 476.0,209.0 473.3,208.4 470.6,209.0 468.8,209.5 465.1,208.8 461.5,208.2 457.9,206.2 455.2,205.9 452.4,207.9 451.5,210.4 447.9,209.5 444.3,207.5 439.7,205.9 436.1,205.0 434.7,203.5 435.7,201.1 435.2,198.8 433.9,197.9 430.7,198.6 425.2,198.8 421.6,198.8 416.1,200.6 412.5,201.9 409.8,201.7 406.5,200.6 405.3,200.6M405.3,200.6 403.8,203.9 400.7,205.1 398.7,208.4 398.4,211.1 396.2,213.5 392.6,215.3 389.8,218.0 387.1,222.4 385.3,227.1 386.6,230.2 386.2,235.7 384.6,238.9 385.9,242.0 386.0,243.5 388.6,245.7 391.5,248.2 392.6,250.2 395.3,252.9 398.9,255.7 402.2,257.7 406.2,256.6 410.7,256.4 413.4,256.9 418.0,255.1 421.0,254.2 424.3,254.2 426.1,256.9 428.8,257.7 431.6,257.3 433.4,258.7 433.7,261.7 433.2,264.4 432.5,267.1 434.3,270.7 437.0,273.6 438.3,276.4 440.1,281.1 441.2,285.6 439.4,288.9 438.3,292.5 437.6,296.9 438.8,300.2 440.6,303.8 442.5,307.1 442.8,311.1 443.7,314.7 446.1,318.0 447.5,321.1 449.2,323.8 449.3,327.3 451.5,328.7 455.2,328.2 458.8,327.4 462.8,327.4 466.0,326.2 468.8,323.8 471.5,321.1 473.3,318.3 475.7,314.7 475.7,312.0 478.7,310.7 480.4,308.4 480.0,304.7 479.3,301.6 482.4,299.3 486.0,296.5 489.3,293.8 490.0,291.1 489.6,287.5 489.1,284.7 487.8,281.1 487.3,277.5 486.5,275.6 488.2,272.9 490.0,270.2 492.3,267.5 496.0,263.8 499.6,261.1 503.2,257.5 506.0,252.9 508.3,248.4 509.0,244.2 506.0,244.8 501.4,245.5 496.9,246.8 494.5,244.8 494.2,242.6 491.4,239.3 488.7,237.5 486.9,234.8 485.6,232.0 483.6,228.4 483.3,225.7 480.9,222.2 479.3,218.4 477.5,215.7 475.3,211.3 474.7,209.0M478.4,208.8 479.5,212.0 478.4,214.8 477.1,213.1 475.3,211.3M479.5,212.0 480.6,215.1 483.3,219.3 486.0,222.9 487.3,226.6 489.6,230.2 492.0,233.8 493.8,237.5 494.7,241.1 495.1,242.6 497.8,242.4 502.3,240.6 506.9,238.4 510.8,236.2 515.0,234.8 518.7,232.0 521.0,229.7 522.8,226.6 524.6,224.8 522.6,222.8 519.6,222.0 518.5,220.2 518.3,217.9 516.8,219.3 515.0,221.5 511.4,221.7 509.8,220.2 509.6,218.4 508.3,220.2 507.2,218.4 506.9,216.6 504.7,214.8 503.2,212.0 504.5,210.8 506.9,211.1 508.3,213.1 511.4,215.7 515.0,217.1 518.3,216.4 519.9,218.8 523.2,219.5 527.7,219.9 532.3,219.7 536.8,219.5 538.2,220.8 539.9,222.6 542.2,224.8 541.3,225.1 543.7,227.5 546.8,227.3 547.9,225.1 548.2,228.4 548.4,231.3 549.5,235.7 550.9,239.3 552.2,242.9 554.0,246.6 555.8,250.2 556.9,250.9 558.0,249.3 559.8,248.7 560.9,246.6 561.6,242.9 561.5,240.2 561.8,237.5 564.9,235.3 567.6,233.3 570.4,230.6 573.6,228.4 574.3,226.6 577.2,226.2 580.3,225.3 582.7,225.1 583.6,227.9 586.3,230.6 587.6,233.8 587.2,236.6 589.4,236.9 592.1,235.5 593.4,237.5 593.9,241.1 595.2,244.8 594.8,247.8 594.5,250.7 597.2,253.7 598.5,255.7 599.9,260.2 602.1,262.0 603.9,263.1 605.2,263.1 603.9,260.2 603.7,257.5 601.7,254.4 599.4,253.1 597.9,250.2 596.1,248.4 597.2,244.8 597.6,241.5 599.4,241.3 599.7,242.8 602.1,243.7 603.4,246.2 606.3,246.8 606.6,249.8 609.9,246.8 613.5,245.1 614.4,242.0 613.9,237.8 611.7,235.3 609.4,232.9 607.9,230.8 609.7,228.4 612.1,226.6 614.8,226.6 616.3,228.4 616.6,226.9 619.3,226.0 622.1,225.3 623.5,224.8 626.6,224.0 629.9,222.0 632.0,219.7 633.5,217.5 635.7,214.2 637.1,211.1 635.7,209.7 637.1,207.9 634.8,204.8 632.6,202.4 634.2,200.2 638.0,198.4 635.7,197.3 632.0,197.9 629.9,195.7 631.1,194.4 635.7,191.5 637.1,194.4 636.2,195.1 640.2,193.3 642.9,193.7 643.3,196.6 645.6,197.5 645.3,201.1 645.6,203.1 648.4,202.4 650.7,201.1 651.1,198.4 649.3,195.7 647.5,193.3 651.1,191.1 653.3,188.8 656.5,187.1 659.2,187.7 662.0,185.7 665.6,182.1 668.3,178.4 671.0,173.9 672.5,170.2 671.0,168.4 669.2,167.2 665.6,167.5 662.0,166.2 664.7,163.0 670.1,160.3 675.6,157.9 681.0,157.7 686.5,157.2 691.9,158.4 697.3,157.9 701.0,153.9 706.4,153.3 711.9,152.1 714.6,152.1 712.4,154.8 710.0,157.5 706.4,160.3 701.0,162.1 699.2,164.8 698.4,169.3 700.1,172.6 703.3,170.6 706.4,167.9 710.0,165.7 712.4,162.1 713.7,158.4 717.3,156.6 722.7,156.1 726.4,153.9 731.8,153.3 738.2,152.1 741.8,151.2 742.7,147.9M89.6,147.9 93.2,146.6 97.8,147.9 102.3,148.8 105.0,146.6 107.7,145.7 104.1,143.9 98.7,143.0 93.2,141.4 89.6,140.6M466.9,191.0 466.9,187.0 468.8,184.2 471.5,181.7 476.0,182.1 476.9,183.5 480.6,183.7 482.5,183.3 485.5,180.2 486.9,180.6 484.2,182.6 486.0,185.1 488.7,187.0 491.6,189.7 488.7,191.1 484.2,191.1 479.6,189.3 476.9,189.3 473.3,190.8 469.1,190.8 466.9,191.0M501.4,184.2 505.0,181.1 509.6,180.2 512.3,181.1 511.4,183.5 508.7,184.6 507.4,187.5 511.4,189.3 513.8,191.5 512.3,193.9 514.1,197.5 510.5,198.8 506.9,197.7 505.0,195.7 506.0,192.6 503.2,189.3 501.4,186.6 501.4,184.2M521.9,182.4 525.0,181.1 527.7,182.1 526.8,185.1 524.1,186.4 521.9,184.8 521.9,182.4M549.5,183.0 553.1,180.8 558.6,181.1 559.5,181.7 554.0,182.1 550.4,183.9 549.5,183.0M604.8,172.1 608.5,170.2 613.0,167.5 615.3,164.4 613.9,164.8 611.2,168.4 607.5,171.2 604.8,172.1"/>
<path d="M406.2,174.6 409.8,174.2 414.3,173.5 418.3,172.8 418.9,170.2 416.7,169.3 415.8,167.5 413.4,165.7 412.2,163.9 412.9,161.2 409.8,160.8 410.3,159.2 407.1,159.2 405.3,161.2 406.2,163.9 407.4,165.7 410.3,166.1 410.7,168.4 408.0,169.0 408.5,170.6 406.7,171.5 410.7,172.2 408.0,173.0 406.2,174.6M398.0,171.9 401.6,171.7 404.7,170.8 405.3,168.4 405.6,166.6 403.8,165.3 401.1,165.7 400.7,167.0 398.0,167.5 398.4,169.0 399.3,170.1 397.5,170.8 398.0,171.9M438.8,196.6 444.3,196.2 443.7,198.8 439.7,197.9 438.8,196.6M431.2,191.1 433.7,191.1 433.6,194.4 431.6,194.8 431.2,191.1M431.8,188.2 433.4,187.5 433.2,190.2 432.1,190.1 431.8,188.2M459.0,201.1 463.7,201.5 461.5,202.2 459.0,201.7 459.0,201.1M474.9,202.0 478.7,201.0 476.9,202.6 474.9,202.0M505.6,287.5 507.4,293.8 506.0,298.4 504.1,303.8 501.8,310.7 498.2,312.0 495.6,308.4 495.1,304.7 496.5,301.1 496.3,296.5 499.6,294.4 502.9,292.0 505.6,287.5M561.3,248.0 563.6,250.2 564.5,252.9 563.1,254.6 561.3,254.4 560.9,251.1 561.3,248.0M652.4,204.8 653.8,203.9 656.5,201.5 659.2,201.0 662.9,200.6 664.3,198.0 667.4,197.5 669.8,194.8 670.1,192.1 671.9,190.6 673.4,193.0 673.4,195.7 671.9,197.5 671.4,200.2 670.1,201.7 668.0,202.4 664.7,202.6 662.9,204.6 661.1,203.0 658.3,203.3 655.6,203.9 655.3,205.7 654.4,208.4 652.5,208.8 652.4,206.6 651.4,205.3 652.4,204.8M656.5,204.0 660.2,203.5 659.6,205.0 657.4,206.0 656.5,204.0M670.7,190.2 671.0,187.5 673.2,183.3 675.6,185.0 679.7,185.7 679.6,187.1 676.5,189.0 672.9,188.4 670.7,190.2M673.8,182.1 674.1,178.4 673.8,174.8 674.7,170.2 675.2,167.0 676.5,170.2 675.9,174.8 678.3,176.6 675.6,179.3 676.3,181.7 673.8,182.1M635.7,219.9 637.3,220.6 635.7,225.3 634.2,223.9 634.8,221.1 635.7,219.9M613.5,230.8 616.6,229.3 617.5,230.8 615.2,232.4 613.5,230.8M634.8,232.0 637.8,232.2 638.0,235.7 636.6,237.5 637.5,240.2 641.1,241.7 640.2,242.6 637.5,240.8 635.1,240.6 634.4,238.4 633.7,236.0 634.8,232.0M637.5,252.9 640.2,250.0 643.8,248.0 645.6,251.1 645.1,254.0 643.6,255.1 641.1,253.3 639.8,252.0 637.5,252.9M641.7,242.9 643.8,243.3 644.2,245.7 642.9,247.1 642.0,245.1 641.7,242.9M637.5,244.2 639.7,244.8 639.7,247.5 638.4,248.4 637.5,246.6 637.5,244.2M629.0,250.4 631.1,247.8 632.9,245.1 632.0,247.5 629.9,250.0 629.0,250.4M613.9,262.9 615.7,262.4 618.1,261.1 621.2,259.8 623.9,256.9 626.6,253.8 628.8,252.9 631.7,255.7 630.2,257.8 629.7,260.6 631.7,263.8 629.7,264.7 629.3,267.5 627.5,270.2 627.0,272.9 623.9,272.6 621.2,271.5 618.4,271.1 616.1,268.9 614.3,266.6 613.9,262.9M589.0,255.5 593.0,256.2 595.8,258.9 598.5,261.7 601.2,263.8 603.9,265.6 605.7,269.3 608.5,271.1 608.1,276.2 605.7,276.2 602.1,273.3 599.4,270.4 597.2,267.1 595.4,262.9 593.0,260.6 590.3,258.4 589.0,255.5M607.0,278.0 609.7,276.6 613.0,277.6 616.6,278.0 620.6,278.2 623.9,279.6 623.7,281.5 619.3,280.9 614.8,279.8 611.2,279.6 607.5,278.4 607.0,278.0M625.7,280.6 628.4,280.9 632.0,281.1 634.8,280.7 639.3,280.7 638.4,281.8 633.9,281.8 630.2,282.0 626.6,281.8 625.7,280.6M640.4,284.4 642.9,282.4 646.5,280.9 645.6,282.0 642.9,283.8 640.4,284.4M632.0,282.9 635.3,283.6 633.9,284.2 632.0,282.9M633.5,264.2 635.7,263.5 640.2,264.0 643.3,262.7 642.0,264.9 638.4,264.9 634.8,264.9 634.2,267.3 636.6,267.3 639.8,266.9 637.5,268.9 638.9,272.0 638.4,274.7 636.6,273.8 635.7,271.1 634.4,272.0 634.6,275.6 632.9,275.5 632.9,272.0 631.7,270.6 632.6,267.8 633.5,264.2M647.5,262.0 648.4,264.7 649.3,267.1 648.0,266.2 647.5,262.0M648.4,271.1 653.4,271.6 651.1,272.0 648.4,271.1M653.8,267.1 656.5,266.4 659.2,267.1 661.1,271.6 665.6,268.6 669.2,269.6 671.9,270.4 676.5,271.8 680.1,274.4 683.7,276.6 682.8,278.0 685.6,281.1 689.2,284.4 684.6,284.0 681.9,281.8 678.3,279.6 675.6,282.0 671.9,282.2 669.2,280.4 666.5,280.7 667.4,278.0 666.5,275.6 662.0,273.6 658.3,272.6 657.1,270.7 655.6,270.7 658.9,269.6 654.7,268.4 653.8,267.1M685.6,275.8 689.2,275.6 692.3,273.5 691.0,275.6 688.3,277.1 685.6,275.8M689.7,270.6 692.8,272.6 693.7,274.0 691.9,272.0 689.7,270.6M696.8,275.6 698.8,277.8 697.3,276.9 696.8,275.6M700.1,278.0 703.7,279.8 706.4,282.0 709.1,284.4 706.4,282.9 702.8,280.6 700.1,278.0M713.7,302.4 716.4,304.4 719.1,306.2 717.3,305.6 714.6,303.8 713.7,302.4M718.6,292.9 719.7,294.7 721.5,297.8 720.0,295.6 718.6,292.9M737.8,297.5 740.0,297.5 740.2,298.7 738.0,298.5 737.8,297.5M622.4,306.5 623.3,305.3 627.5,303.1 632.0,302.0 636.6,300.5 638.0,297.5 640.4,297.1 642.0,295.1 644.7,291.6 648.4,292.7 651.1,292.7 652.9,288.7 656.5,286.5 661.1,287.8 664.3,287.8 662.9,290.2 662.0,292.9 665.6,294.7 668.9,297.5 671.6,297.5 672.9,293.8 673.2,289.3 674.7,285.3 676.5,288.9 677.0,291.6 679.7,292.7 681.0,297.5 681.9,300.2 685.6,302.4 687.4,305.6 689.7,308.4 693.4,311.4 694.3,314.7 694.6,318.3 693.7,322.0 692.4,325.3 690.5,327.4 689.2,330.7 688.3,333.4 684.6,334.5 681.9,336.5 679.2,335.2 676.5,336.2 672.9,335.2 670.1,333.8 669.2,331.1 666.5,330.5 666.9,328.3 666.0,329.6 664.3,329.8 666.1,326.0 663.8,327.4 662.0,328.9 659.6,325.6 655.6,323.8 652.0,323.1 647.5,324.2 642.9,325.3 640.6,327.3 635.7,327.3 632.9,328.2 630.2,329.4 626.6,329.1 624.8,328.0 626.0,323.8 625.3,320.2 623.9,317.1 622.1,313.3 622.4,310.2 622.4,306.5M678.7,339.8 681.9,340.3 685.2,340.0 685.2,342.3 683.7,344.3 681.0,344.9 679.7,342.9 678.7,339.8M729.5,328.2 731.8,330.2 734.5,332.5 735.4,334.0 739.1,334.0 739.6,335.6 737.3,337.4 736.4,340.2 734.0,341.2 733.3,339.2 731.5,337.2 732.9,335.6 732.7,332.9 730.9,330.2 729.5,328.2M729.5,339.4 732.2,341.1 730.0,344.2 726.9,346.2 725.8,349.1 722.7,350.3 720.0,349.6 718.2,348.9 720.9,346.0 724.6,343.8 727.3,341.6 729.5,339.4M133.1,228.9 135.0,229.7 134.0,231.1 133.1,230.2 133.1,228.9M129.1,226.4 130.1,226.9M126.4,225.5 127.2,225.7M541.0,354.7 544.0,355.1 542.2,356.0 541.0,354.7M347.2,363.8 350.8,364.7 349.0,364.1 347.2,363.8M473.8,265.3 477.5,265.1 477.8,268.4 475.1,270.4 473.8,268.4 473.8,265.3M469.3,272.0 470.0,275.6 472.0,280.7 471.5,278.4 469.7,274.7 469.3,272.0M477.8,283.1 478.9,286.5 479.6,291.1 478.7,288.4 477.8,283.1M513.0,242.8 515.0,242.9M385.7,214.2 388.0,214.8M516.5,303.8 517.4,304.2M520.3,302.4 521.0,302.5M113.2,168.4 115.0,167.5M107.7,169.9 110.5,169.0M95.0,171.5 96.9,171.2M729.1,169.5 730.9,169.7M681.0,184.8 683.7,183.3M687.4,182.4 689.2,181.5M692.8,179.3 694.6,177.5M697.3,175.7 699.2,173.9M250.2,266.6 251.1,267.5 251.4,266.6 250.2,266.6"/>
<path d="M89.6,418.7 107.7,419.2 125.9,420.1 138.6,420.5 147.7,418.3 140.4,415.6 149.5,413.8 138.6,411.9 147.7,410.1 135.0,408.3 129.5,406.1 140.4,405.6 147.7,403.4 158.5,402.5 169.4,401.2 180.3,400.5 191.2,399.8 202.1,400.1 213.0,400.7 223.8,401.6 231.1,399.2 238.4,397.0 245.6,397.9 252.9,397.9 261.9,398.7 271.0,398.3 280.1,397.9 289.2,397.4 292.8,393.8 293.7,390.1 297.3,386.5 301.9,383.8 307.3,381.6 312.7,380.7 310.0,382.9 305.5,384.7 303.7,387.4 300.0,390.1 302.8,392.9 305.5,396.5 304.6,400.1 300.0,402.9 289.2,404.7 276.5,406.5 289.2,408.3 307.3,408.3 325.4,407.4 343.6,407.4 352.7,406.5 361.7,403.8 370.8,401.0 379.9,398.3 388.9,397.4 398.0,394.7 407.1,394.3 416.1,392.9 425.2,393.2 434.3,392.9 443.4,392.5 452.4,392.9 461.5,393.2 470.6,391.9 476.0,390.7 481.5,391.9 488.7,391.0 497.8,388.9 506.9,387.4 514.1,385.6 521.4,387.4 528.6,388.3 535.9,388.9 543.1,390.1 548.6,391.9 555.8,391.0 561.3,388.9 570.4,387.4 579.4,387.0 588.5,386.5 597.6,385.6 606.6,386.5 615.7,386.0 624.8,386.5 633.9,387.0 642.9,386.5 652.0,386.0 661.1,385.6 670.1,386.9 679.2,387.8 688.3,389.8 697.3,391.0 706.4,393.2 715.5,394.3 724.6,395.6 726.4,398.3 713.7,401.9 720.9,404.7 711.9,409.8 709.1,413.6 716.4,417.4 728.2,418.3 742.7,418.7M118.6,409.2 124.1,408.8 125.9,410.3 120.4,410.7 118.6,409.2"/>
</g>
<g stroke="#000" stroke-width="1.05" fill="none">
<rect x="89.60" y="102.10" width="653.10" height="327.10"/>
<path d="M89.60 102.10V90.80M89.60 429.20V440.50M144.02 102.10V90.80M144.02 429.20V440.50M198.45 102.10V90.80M198.45 429.20V440.50M252.88 102.10V90.80M252.88 429.20V440.50M307.30 102.10V90.80M307.30 429.20V440.50M361.73 102.10V90.80M361.73 429.20V440.50M416.15 102.10V90.80M416.15 429.20V440.50M470.58 102.10V90.80M470.58 429.20V440.50M525.00 102.10V90.80M525.00 429.20V440.50M579.43 102.10V90.80M579.43 429.20V440.50M633.85 102.10V90.80M633.85 429.20V440.50M688.27 102.10V90.80M688.27 429.20V440.50M742.70 102.10V90.80M742.70 429.20V440.50M89.60 429.20H78.30M742.70 429.20H754.00M89.60 374.68H78.30M742.70 374.68H754.00M89.60 320.17H78.30M742.70 320.17H754.00M89.60 265.65H78.30M742.70 265.65H754.00M89.60 211.13H78.30M742.70 211.13H754.00M89.60 156.62H78.30M742.70 156.62H754.00M89.60 102.10H78.30M742.70 102.10H754.00"/>
<path stroke-width="0.75" stroke="#222" d="M107.74 102.10V96.30M107.74 429.20V435.00M125.88 102.10V96.30M125.88 429.20V435.00M162.17 102.10V96.30M162.17 429.20V435.00M180.31 102.10V96.30M180.31 429.20V435.00M216.59 102.10V96.30M216.59 429.20V435.00M234.73 102.10V96.30M234.73 429.20V435.00M271.02 102.10V96.30M271.02 429.20V435.00M289.16 102.10V96.30M289.16 429.20V435.00M325.44 102.10V96.30M325.44 429.20V435.00M343.58 102.10V96.30M343.58 429.20V435.00M379.87 102.10V96.30M379.87 429.20V435.00M398.01 102.10V96.30M398.01 429.20V435.00M434.29 102.10V96.30M434.29 429.20V435.00M452.43 102.10V96.30M452.43 429.20V435.00M488.72 102.10V96.30M488.72 429.20V435.00M506.86 102.10V96.30M506.86 429.20V435.00M543.14 102.10V96.30M543.14 429.20V435.00M561.28 102.10V96.30M561.28 429.20V435.00M597.57 102.10V96.30M597.57 429.20V435.00M615.71 102.10V96.30M615.71 429.20V435.00M651.99 102.10V96.30M651.99 429.20V435.00M670.13 102.10V96.30M670.13 429.20V435.00M706.42 102.10V96.30M706.42 429.20V435.00M724.56 102.10V96.30M724.56 429.20V435.00M89.60 411.03H83.80M742.70 411.03H748.50M89.60 392.86H83.80M742.70 392.86H748.50M89.60 356.51H83.80M742.70 356.51H748.50M89.60 338.34H83.80M742.70 338.34H748.50M89.60 301.99H83.80M742.70 301.99H748.50M89.60 283.82H83.80M742.70 283.82H748.50M89.60 247.48H83.80M742.70 247.48H748.50M89.60 229.31H83.80M742.70 229.31H748.50M89.60 192.96H83.80M742.70 192.96H748.50M89.60 174.79H83.80M742.70 174.79H748.50M89.60 138.44H83.80M742.70 138.44H748.50M89.60 120.27H83.80M742.70 120.27H748.50"/>
</g>
<g class="tl" opacity="0.999">
<text x="38.1 48.0" y="434.9">90</text><text transform="translate(57.4 434.9) scale(1.092 1)">S</text>
<text x="38.1 48.0" y="380.4">60</text><text transform="translate(57.4 380.4) scale(1.092 1)">S</text>
<text x="38.1 48.0" y="325.9">30</text><text transform="translate(57.4 325.9) scale(1.092 1)">S</text>
<text x="59.2" y="271.3">0</text>
<text x="38.1 48.0" y="216.8">30</text><text transform="translate(57.4 216.8) scale(0.841 1)">N</text>
<text x="38.1 48.0" y="162.3">60</text><text transform="translate(57.4 162.3) scale(0.841 1)">N</text>
<text x="38.1 48.0" y="107.8">90</text><text transform="translate(57.4 107.8) scale(0.841 1)">N</text>
<text x="75.1 85.0 94.9" y="462.3">180</text>
<text x="123.9 133.8 143.7" y="462.3">150</text><text transform="translate(153.1 462.3) scale(0.643 1)">W</text>
<text x="178.3 188.2 198.1" y="462.3">120</text><text transform="translate(207.5 462.3) scale(0.643 1)">W</text>
<text x="237.7 247.6" y="462.3">90</text><text transform="translate(257.0 462.3) scale(0.643 1)">W</text>
<text x="292.1 302.0" y="462.3">60</text><text transform="translate(311.4 462.3) scale(0.643 1)">W</text>
<text x="346.6 356.5" y="462.3">30</text><text transform="translate(365.9 462.3) scale(0.643 1)">W</text>
<text x="411.6" y="462.3">0</text>
<text x="455.4 465.3" y="462.3">30</text><text transform="translate(474.7 462.3) scale(0.994 1)">E</text>
<text x="509.9 519.8" y="462.3">60</text><text transform="translate(529.1 462.3) scale(0.994 1)">E</text>
<text x="564.3 574.2" y="462.3">90</text><text transform="translate(583.6 462.3) scale(0.994 1)">E</text>
<text x="613.8 623.6 633.5" y="462.3">120</text><text transform="translate(643.0 462.3) scale(0.994 1)">E</text>
<text x="668.2 678.1 688.0" y="462.3">150</text><text transform="translate(697.4 462.3) scale(0.994 1)">E</text>
<text x="728.2 738.1 748.0" y="462.3">180</text>
</g>
<text class="tt" x="416.3" y="82" text-anchor="middle">T850 at level = 0 time=0.25 days</text>
<g>
<rect x="176.20" y="473.20" width="14.41" height="29.30" fill="#0000ff"/>
<rect x="190.31" y="473.20" width="14.41" height="29.30" fill="#0028ff"/>
<rect x="204.42" y="473.20" width="14.41" height="29.30" fill="#0055ff"/>
<rect x="218.54" y="473.20" width="14.41" height="29.30" fill="#0082ff"/>
<rect x="232.65" y="473.20" width="14.41" height="29.30" fill="#00afff"/>
<rect x="246.76" y="473.20" width="14.41" height="29.30" fill="#00dcff"/>
<rect x="260.87" y="473.20" width="14.41" height="29.30" fill="#00faeb"/>
<rect x="274.98" y="473.20" width="14.41" height="29.30" fill="#00ebc3"/>
<rect x="289.09" y="473.20" width="14.41" height="29.30" fill="#00e196"/>
<rect x="303.21" y="473.20" width="14.41" height="29.30" fill="#00d26e"/>
<rect x="317.32" y="473.20" width="14.41" height="29.30" fill="#00c33c"/>
<rect x="331.43" y="473.20" width="14.41" height="29.30" fill="#00b414"/>
<rect x="345.54" y="473.20" width="14.41" height="29.30" fill="#28b914"/>
<rect x="359.65" y="473.20" width="14.41" height="29.30" fill="#5ac80f"/>
<rect x="373.76" y="473.20" width="14.41" height="29.30" fill="#8cd70a"/>
<rect x="387.88" y="473.20" width="14.41" height="29.30" fill="#bee605"/>
<rect x="401.99" y="473.20" width="14.41" height="29.30" fill="#e6f500"/>
<rect x="416.10" y="473.20" width="14.41" height="29.30" fill="#ffff00"/>
<rect x="430.21" y="473.20" width="14.41" height="29.30" fill="#ffe100"/>
<rect x="444.32" y="473.20" width="14.41" height="29.30" fill="#ffd200"/>
<rect x="458.44" y="473.20" width="14.41" height="29.30" fill="#ffc300"/>
<rect x="472.55" y="473.20" width="14.41" height="29.30" fill="#ffb400"/>
<rect x="486.66" y="473.20" width="14.41" height="29.30" fill="#ffa000"/>
<rect x="500.77" y="473.20" width="14.41" height="29.30" fill="#ff8c00"/>
<rect x="514.88" y="473.20" width="14.41" height="29.30" fill="#ff6e00"/>
<rect x="528.99" y="473.20" width="14.41" height="29.30" fill="#ff5000"/>
<rect x="543.11" y="473.20" width="14.41" height="29.30" fill="#ff3700"/>
<rect x="557.22" y="473.20" width="14.41" height="29.30" fill="#ff1900"/>
<rect x="571.33" y="473.20" width="14.41" height="29.30" fill="#fa0000"/>
<rect x="585.44" y="473.20" width="14.41" height="29.30" fill="#dc001e"/>
<rect x="599.55" y="473.20" width="14.41" height="29.30" fill="#be003c"/>
<rect x="613.66" y="473.20" width="14.41" height="29.30" fill="#96005a"/>
<rect x="627.78" y="473.20" width="14.41" height="29.30" fill="#780073"/>
<rect x="641.89" y="473.20" width="14.11" height="29.30" fill="#550091"/>
</g>
<g class="tl" opacity="0.999">
<text x="176.5 186.4 196.3" y="523.2">260</text>
<text x="225.4 235.3 245.2 255.1 260.3" y="523.2">265.5</text>
<text x="289.4 299.3 309.2" y="523.2">271</text>
<text x="338.3 348.2 358.1 368.0 373.2" y="523.2">276.5</text>
<text x="402.3 412.2 422.1" y="523.2">282</text>
<text x="451.2 461.1 471.0 480.9 486.1" y="523.2">287.5</text>
<text x="515.2 525.1 535.0" y="523.2">293</text>
<text x="564.1 574.0 583.9 593.8 599.0" y="523.2">298.5</text>
<text x="628.1 638.0 647.9" y="523.2">304</text>
</g>
</svg>
</body></html>
